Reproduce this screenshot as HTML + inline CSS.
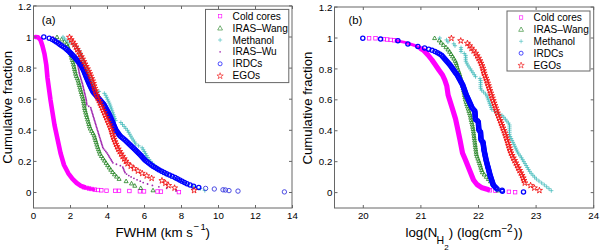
<!DOCTYPE html>
<html><head><meta charset="utf-8"><style>
html,body{margin:0;padding:0;background:#fff;width:600px;height:252px;overflow:hidden;position:relative}
</style></head><body>
<svg width="600" height="252" viewBox="0 0 600 252" style="position:absolute;left:0;top:0">
<g font-family="'Liberation Sans', sans-serif" font-size="9.7" fill="#000">
<g><path d="M80.8 185.8L86.5 187.9L94 189.5" fill="none" stroke="#ff00ff" stroke-width="3" stroke-linecap="round"/>
<path d="M35.5 37L38 37.3L40.5 40L42.5 46L44.5 54L46.3 65L47.5 78L50.5 100L54.5 125L60.5 153L64 165L68.3 173.3L72.5 178.9L76.7 183L80.8 185.8L84 187" fill="none" stroke="#ff00ff" stroke-width="4.6" stroke-linejoin="round" stroke-linecap="round"/>
<rect x="82.25" y="185.45" width="3.5" height="3.5" fill="none" stroke="#ff00ff" stroke-width="0.75"/>
<rect x="84.75" y="186.15" width="3.5" height="3.5" fill="none" stroke="#ff00ff" stroke-width="0.75"/>
<rect x="87.25" y="186.75" width="3.5" height="3.5" fill="none" stroke="#ff00ff" stroke-width="0.75"/>
<rect x="89.75" y="187.25" width="3.5" height="3.5" fill="none" stroke="#ff00ff" stroke-width="0.75"/>
<rect x="92.95" y="187.85" width="3.5" height="3.5" fill="none" stroke="#ff00ff" stroke-width="0.75"/>
<rect x="96.25" y="188.25" width="3.5" height="3.5" fill="none" stroke="#ff00ff" stroke-width="0.75"/>
<rect x="99.55" y="188.55" width="3.5" height="3.5" fill="none" stroke="#ff00ff" stroke-width="0.75"/>
<rect x="104.75" y="188.95" width="3.5" height="3.5" fill="none" stroke="#ff00ff" stroke-width="0.75"/>
<rect x="113.55" y="189.05" width="3.5" height="3.5" fill="none" stroke="#ff00ff" stroke-width="0.75"/>
<rect x="117.25" y="189.05" width="3.5" height="3.5" fill="none" stroke="#ff00ff" stroke-width="0.75"/>
<rect x="127.65" y="189.25" width="3.5" height="3.5" fill="none" stroke="#ff00ff" stroke-width="0.75"/>
<rect x="138.15" y="189.55" width="3.5" height="3.5" fill="none" stroke="#ff00ff" stroke-width="0.75"/>
<rect x="142.25" y="189.65" width="3.5" height="3.5" fill="none" stroke="#ff00ff" stroke-width="0.75"/>
<rect x="155.75" y="189.75" width="3.5" height="3.5" fill="none" stroke="#ff00ff" stroke-width="0.75"/>
<rect x="159.15" y="189.85" width="3.5" height="3.5" fill="none" stroke="#ff00ff" stroke-width="0.75"/>
<rect x="177.15" y="190.35" width="3.5" height="3.5" fill="none" stroke="#ff00ff" stroke-width="0.75"/>
<path d="M57 35L59 38.6L55 38.6Z" fill="none" stroke="#1e801e" stroke-width="0.8"/>
<path d="M61.57 37.29L63.57 40.89L59.57 40.89Z" fill="none" stroke="#1e801e" stroke-width="0.8"/>
<path d="M64.57 39.57L66.57 43.17L62.57 43.17Z" fill="none" stroke="#1e801e" stroke-width="0.8"/>
<path d="M66.86 41.86L68.86 45.46L64.86 45.46Z" fill="none" stroke="#1e801e" stroke-width="0.8"/>
<path d="M67.81 44.15L69.81 47.75L65.81 47.75Z" fill="none" stroke="#1e801e" stroke-width="0.8"/>
<path d="M68.66 46.43L70.66 50.03L66.66 50.03Z" fill="none" stroke="#1e801e" stroke-width="0.8"/>
<path d="M69.52 48.72L71.52 52.32L67.52 52.32Z" fill="none" stroke="#1e801e" stroke-width="0.8"/>
<path d="M70.3 51.01L72.3 54.61L68.3 54.61Z" fill="none" stroke="#1e801e" stroke-width="0.8"/>
<path d="M70.99 53.29L72.99 56.89L68.99 56.89Z" fill="none" stroke="#1e801e" stroke-width="0.8"/>
<path d="M71.67 55.58L73.67 59.18L69.67 59.18Z" fill="none" stroke="#1e801e" stroke-width="0.8"/>
<path d="M72.36 57.87L74.36 61.47L70.36 61.47Z" fill="none" stroke="#1e801e" stroke-width="0.8"/>
<path d="M73.03 60.15L75.03 63.75L71.03 63.75Z" fill="none" stroke="#1e801e" stroke-width="0.8"/>
<path d="M73.54 62.44L75.54 66.04L71.54 66.04Z" fill="none" stroke="#1e801e" stroke-width="0.8"/>
<path d="M74.05 64.73L76.05 68.33L72.05 68.33Z" fill="none" stroke="#1e801e" stroke-width="0.8"/>
<path d="M74.56 67.01L76.56 70.61L72.56 70.61Z" fill="none" stroke="#1e801e" stroke-width="0.8"/>
<path d="M75.07 69.3L77.07 72.9L73.07 72.9Z" fill="none" stroke="#1e801e" stroke-width="0.8"/>
<path d="M75.59 71.59L77.59 75.19L73.59 75.19Z" fill="none" stroke="#1e801e" stroke-width="0.8"/>
<path d="M76.27 73.88L78.27 77.47L74.27 77.47Z" fill="none" stroke="#1e801e" stroke-width="0.8"/>
<path d="M77.23 76.16L79.23 79.76L75.23 79.76Z" fill="none" stroke="#1e801e" stroke-width="0.8"/>
<path d="M78.12 78.45L80.12 82.05L76.12 82.05Z" fill="none" stroke="#1e801e" stroke-width="0.8"/>
<path d="M78.72 80.74L80.72 84.34L76.72 84.34Z" fill="none" stroke="#1e801e" stroke-width="0.8"/>
<path d="M79.33 83.02L81.33 86.62L77.33 86.62Z" fill="none" stroke="#1e801e" stroke-width="0.8"/>
<path d="M79.94 85.31L81.94 88.91L77.94 88.91Z" fill="none" stroke="#1e801e" stroke-width="0.8"/>
<path d="M80.54 87.6L82.54 91.2L78.54 91.2Z" fill="none" stroke="#1e801e" stroke-width="0.8"/>
<path d="M81.15 89.88L83.15 93.48L79.15 93.48Z" fill="none" stroke="#1e801e" stroke-width="0.8"/>
<path d="M81.75 92.17L83.75 95.77L79.75 95.77Z" fill="none" stroke="#1e801e" stroke-width="0.8"/>
<path d="M82.36 94.46L84.36 98.06L80.36 98.06Z" fill="none" stroke="#1e801e" stroke-width="0.8"/>
<path d="M82.97 96.74L84.97 100.34L80.97 100.34Z" fill="none" stroke="#1e801e" stroke-width="0.8"/>
<path d="M83.47 99.03L85.47 102.63L81.47 102.63Z" fill="none" stroke="#1e801e" stroke-width="0.8"/>
<path d="M83.86 101.32L85.86 104.92L81.86 104.92Z" fill="none" stroke="#1e801e" stroke-width="0.8"/>
<path d="M84.25 103.6L86.25 107.2L82.25 107.2Z" fill="none" stroke="#1e801e" stroke-width="0.8"/>
<path d="M84.64 105.89L86.64 109.49L82.64 109.49Z" fill="none" stroke="#1e801e" stroke-width="0.8"/>
<path d="M85.05 108.18L87.05 111.78L83.05 111.78Z" fill="none" stroke="#1e801e" stroke-width="0.8"/>
<path d="M85.68 110.46L87.68 114.06L83.68 114.06Z" fill="none" stroke="#1e801e" stroke-width="0.8"/>
<path d="M86.32 112.75L88.32 116.35L84.32 116.35Z" fill="none" stroke="#1e801e" stroke-width="0.8"/>
<path d="M86.95 115.04L88.95 118.64L84.95 118.64Z" fill="none" stroke="#1e801e" stroke-width="0.8"/>
<path d="M87.59 117.32L89.59 120.92L85.59 120.92Z" fill="none" stroke="#1e801e" stroke-width="0.8"/>
<path d="M88.23 119.61L90.23 123.21L86.23 123.21Z" fill="none" stroke="#1e801e" stroke-width="0.8"/>
<path d="M88.86 121.9L90.86 125.5L86.86 125.5Z" fill="none" stroke="#1e801e" stroke-width="0.8"/>
<path d="M89.5 124.18L91.5 127.78L87.5 127.78Z" fill="none" stroke="#1e801e" stroke-width="0.8"/>
<path d="M90.27 126.47L92.27 130.07L88.27 130.07Z" fill="none" stroke="#1e801e" stroke-width="0.8"/>
<path d="M91.58 128.76L93.58 132.36L89.58 132.36Z" fill="none" stroke="#1e801e" stroke-width="0.8"/>
<path d="M92.88 131.04L94.88 134.64L90.88 134.64Z" fill="none" stroke="#1e801e" stroke-width="0.8"/>
<path d="M94.1 133.33L96.1 136.93L92.1 136.93Z" fill="none" stroke="#1e801e" stroke-width="0.8"/>
<path d="M94.79 135.62L96.79 139.22L92.79 139.22Z" fill="none" stroke="#1e801e" stroke-width="0.8"/>
<path d="M95.47 137.9L97.47 141.5L93.47 141.5Z" fill="none" stroke="#1e801e" stroke-width="0.8"/>
<path d="M96.16 140.19L98.16 143.79L94.16 143.79Z" fill="none" stroke="#1e801e" stroke-width="0.8"/>
<path d="M96.84 142.48L98.84 146.08L94.84 146.08Z" fill="none" stroke="#1e801e" stroke-width="0.8"/>
<path d="M97.6 144.76L99.6 148.36L95.6 148.36Z" fill="none" stroke="#1e801e" stroke-width="0.8"/>
<path d="M98.38 147.05L100.38 150.65L96.38 150.65Z" fill="none" stroke="#1e801e" stroke-width="0.8"/>
<path d="M99.16 149.34L101.16 152.94L97.16 152.94Z" fill="none" stroke="#1e801e" stroke-width="0.8"/>
<path d="M99.94 151.62L101.94 155.22L97.94 155.22Z" fill="none" stroke="#1e801e" stroke-width="0.8"/>
<path d="M101.42 153.91L103.42 157.51L99.42 157.51Z" fill="none" stroke="#1e801e" stroke-width="0.8"/>
<path d="M102.95 156.2L104.95 159.8L100.95 159.8Z" fill="none" stroke="#1e801e" stroke-width="0.8"/>
<path d="M104.48 158.49L106.48 162.09L102.48 162.09Z" fill="none" stroke="#1e801e" stroke-width="0.8"/>
<path d="M106.03 160.77L108.03 164.37L104.03 164.37Z" fill="none" stroke="#1e801e" stroke-width="0.8"/>
<path d="M107.6 163.06L109.6 166.66L105.6 166.66Z" fill="none" stroke="#1e801e" stroke-width="0.8"/>
<path d="M109.18 165.35L111.18 168.95L107.18 168.95Z" fill="none" stroke="#1e801e" stroke-width="0.8"/>
<path d="M110.75 167.63L112.75 171.23L108.75 171.23Z" fill="none" stroke="#1e801e" stroke-width="0.8"/>
<path d="M112.6 169.92L114.6 173.52L110.6 173.52Z" fill="none" stroke="#1e801e" stroke-width="0.8"/>
<path d="M114.5 172.21L116.5 175.81L112.5 175.81Z" fill="none" stroke="#1e801e" stroke-width="0.8"/>
<path d="M116.55 174.49L118.55 178.09L114.55 178.09Z" fill="none" stroke="#1e801e" stroke-width="0.8"/>
<path d="M119.09 176.78L121.09 180.38L117.09 180.38Z" fill="none" stroke="#1e801e" stroke-width="0.8"/>
<path d="M126.11 179.07L128.11 182.67L124.11 182.67Z" fill="none" stroke="#1e801e" stroke-width="0.8"/>
<path d="M131.53 181.35L133.53 184.95L129.53 184.95Z" fill="none" stroke="#1e801e" stroke-width="0.8"/>
<path d="M134.78 183.64L136.78 187.24L132.78 187.24Z" fill="none" stroke="#1e801e" stroke-width="0.8"/>
<path d="M140.74 185.93L142.74 189.53L138.74 189.53Z" fill="none" stroke="#1e801e" stroke-width="0.8"/>
<path d="M153 188.21L155 191.81L151 191.81Z" fill="none" stroke="#1e801e" stroke-width="0.8"/>
<path d="M60.9 37H65.1M63 34.9V39.1" stroke="#40baba" stroke-width="0.75"/>
<path d="M62.63 38.94H66.83M64.73 36.84V41.04" stroke="#40baba" stroke-width="0.75"/>
<path d="M65.08 40.89H69.28M67.18 38.79V42.99" stroke="#40baba" stroke-width="0.75"/>
<path d="M67.67 42.83H71.87M69.77 40.73V44.93" stroke="#40baba" stroke-width="0.75"/>
<path d="M71.45 44.78H75.65M73.55 42.68V46.88" stroke="#40baba" stroke-width="0.75"/>
<path d="M74.44 46.72H78.64M76.54 44.62V48.82" stroke="#40baba" stroke-width="0.75"/>
<path d="M75.9 48.66H80.1M78 46.56V50.76" stroke="#40baba" stroke-width="0.75"/>
<path d="M77.13 50.61H81.33M79.23 48.51V52.71" stroke="#40baba" stroke-width="0.75"/>
<path d="M77.86 52.55H82.06M79.96 50.45V54.65" stroke="#40baba" stroke-width="0.75"/>
<path d="M78.59 54.49H82.79M80.69 52.39V56.59" stroke="#40baba" stroke-width="0.75"/>
<path d="M79.31 56.44H83.51M81.41 54.34V58.54" stroke="#40baba" stroke-width="0.75"/>
<path d="M80.07 58.38H84.27M82.17 56.28V60.48" stroke="#40baba" stroke-width="0.75"/>
<path d="M80.92 60.33H85.12M83.02 58.23V62.43" stroke="#40baba" stroke-width="0.75"/>
<path d="M81.77 62.27H85.97M83.87 60.17V64.37" stroke="#40baba" stroke-width="0.75"/>
<path d="M82.62 64.21H86.82M84.72 62.11V66.31" stroke="#40baba" stroke-width="0.75"/>
<path d="M83.46 66.16H87.66M85.56 64.06V68.26" stroke="#40baba" stroke-width="0.75"/>
<path d="M84.19 68.1H88.39M86.29 66V70.2" stroke="#40baba" stroke-width="0.75"/>
<path d="M84.92 70.04H89.12M87.02 67.94V72.14" stroke="#40baba" stroke-width="0.75"/>
<path d="M85.65 71.99H89.85M87.75 69.89V74.09" stroke="#40baba" stroke-width="0.75"/>
<path d="M86.37 73.93H90.57M88.47 71.83V76.03" stroke="#40baba" stroke-width="0.75"/>
<path d="M87.1 75.88H91.3M89.2 73.78V77.97" stroke="#40baba" stroke-width="0.75"/>
<path d="M87.83 77.82H92.03M89.93 75.72V79.92" stroke="#40baba" stroke-width="0.75"/>
<path d="M88.63 79.76H92.83M90.73 77.66V81.86" stroke="#40baba" stroke-width="0.75"/>
<path d="M89.44 81.71H93.64M91.54 79.61V83.81" stroke="#40baba" stroke-width="0.75"/>
<path d="M90.25 83.65H94.45M92.35 81.55V85.75" stroke="#40baba" stroke-width="0.75"/>
<path d="M91.06 85.59H95.26M93.16 83.49V87.69" stroke="#40baba" stroke-width="0.75"/>
<path d="M91.87 87.54H96.07M93.97 85.44V89.64" stroke="#40baba" stroke-width="0.75"/>
<path d="M92.68 89.48H96.88M94.78 87.38V91.58" stroke="#40baba" stroke-width="0.75"/>
<path d="M96.86 91.42H101.06M98.96 89.33V93.52" stroke="#40baba" stroke-width="0.75"/>
<path d="M102.26 93.37H106.46M104.36 91.27V95.47" stroke="#40baba" stroke-width="0.75"/>
<path d="M103.67 95.31H107.87M105.77 93.21V97.41" stroke="#40baba" stroke-width="0.75"/>
<path d="M104.54 97.26H108.74M106.64 95.16V99.36" stroke="#40baba" stroke-width="0.75"/>
<path d="M105.41 99.2H109.61M107.51 97.1V101.3" stroke="#40baba" stroke-width="0.75"/>
<path d="M106.28 101.14H110.48M108.38 99.04V103.24" stroke="#40baba" stroke-width="0.75"/>
<path d="M107.16 103.09H111.36M109.26 100.99V105.19" stroke="#40baba" stroke-width="0.75"/>
<path d="M107.96 105.03H112.16M110.06 102.93V107.13" stroke="#40baba" stroke-width="0.75"/>
<path d="M108.65 106.97H112.85M110.75 104.88V109.07" stroke="#40baba" stroke-width="0.75"/>
<path d="M109.33 108.92H113.53M111.43 106.82V111.02" stroke="#40baba" stroke-width="0.75"/>
<path d="M110.02 110.86H114.22M112.12 108.76V112.96" stroke="#40baba" stroke-width="0.75"/>
<path d="M110.71 112.81H114.91M112.81 110.71V114.91" stroke="#40baba" stroke-width="0.75"/>
<path d="M111.39 114.75H115.59M113.49 112.65V116.85" stroke="#40baba" stroke-width="0.75"/>
<path d="M112.08 116.69H116.28M114.18 114.59V118.79" stroke="#40baba" stroke-width="0.75"/>
<path d="M112.77 118.64H116.97M114.87 116.54V120.74" stroke="#40baba" stroke-width="0.75"/>
<path d="M113.45 120.58H117.65M115.55 118.48V122.68" stroke="#40baba" stroke-width="0.75"/>
<path d="M118.76 122.52H122.96M120.86 120.42V124.62" stroke="#40baba" stroke-width="0.75"/>
<path d="M120.4 124.47H124.6M122.5 122.37V126.57" stroke="#40baba" stroke-width="0.75"/>
<path d="M122.05 126.41H126.25M124.15 124.31V128.51" stroke="#40baba" stroke-width="0.75"/>
<path d="M123.69 128.36H127.89M125.79 126.26V130.46" stroke="#40baba" stroke-width="0.75"/>
<path d="M125.33 130.3H129.53M127.43 128.2V132.4" stroke="#40baba" stroke-width="0.75"/>
<path d="M126.5 132.24H130.7M128.6 130.14V134.34" stroke="#40baba" stroke-width="0.75"/>
<path d="M127.61 134.19H131.81M129.71 132.09V136.29" stroke="#40baba" stroke-width="0.75"/>
<path d="M128.73 136.13H132.93M130.83 134.03V138.23" stroke="#40baba" stroke-width="0.75"/>
<path d="M129.85 138.07H134.05M131.95 135.97V140.17" stroke="#40baba" stroke-width="0.75"/>
<path d="M131.11 140.02H135.31M133.21 137.92V142.12" stroke="#40baba" stroke-width="0.75"/>
<path d="M132.37 141.96H136.57M134.47 139.86V144.06" stroke="#40baba" stroke-width="0.75"/>
<path d="M133.63 143.91H137.83M135.73 141.81V146.01" stroke="#40baba" stroke-width="0.75"/>
<path d="M136.52 145.85H140.72M138.62 143.75V147.95" stroke="#40baba" stroke-width="0.75"/>
<path d="M140.05 147.79H144.25M142.15 145.69V149.89" stroke="#40baba" stroke-width="0.75"/>
<path d="M141.16 149.74H145.36M143.26 147.64V151.84" stroke="#40baba" stroke-width="0.75"/>
<path d="M142.28 151.68H146.48M144.38 149.58V153.78" stroke="#40baba" stroke-width="0.75"/>
<path d="M143.4 153.62H147.6M145.5 151.53V155.72" stroke="#40baba" stroke-width="0.75"/>
<path d="M144.52 155.57H148.72M146.62 153.47V157.67" stroke="#40baba" stroke-width="0.75"/>
<path d="M145.64 157.51H149.84M147.74 155.41V159.61" stroke="#40baba" stroke-width="0.75"/>
<path d="M146.92 159.46H151.12M149.02 157.36V161.56" stroke="#40baba" stroke-width="0.75"/>
<path d="M148.69 161.4H152.89M150.79 159.3V163.5" stroke="#40baba" stroke-width="0.75"/>
<path d="M150.47 163.34H154.67M152.57 161.24V165.44" stroke="#40baba" stroke-width="0.75"/>
<path d="M152.25 165.29H156.45M154.35 163.19V167.39" stroke="#40baba" stroke-width="0.75"/>
<path d="M154.21 167.23H158.41M156.31 165.13V169.33" stroke="#40baba" stroke-width="0.75"/>
<path d="M156.29 169.18H160.49M158.39 167.08V171.28" stroke="#40baba" stroke-width="0.75"/>
<path d="M158.36 171.12H162.56M160.46 169.02V173.22" stroke="#40baba" stroke-width="0.75"/>
<path d="M160.43 173.06H164.63M162.53 170.96V175.16" stroke="#40baba" stroke-width="0.75"/>
<path d="M164.21 175.01H168.41M166.31 172.91V177.11" stroke="#40baba" stroke-width="0.75"/>
<path d="M168.49 176.95H172.69M170.59 174.85V179.05" stroke="#40baba" stroke-width="0.75"/>
<path d="M172.8 178.89H177M174.9 176.79V180.99" stroke="#40baba" stroke-width="0.75"/>
<path d="M177.24 180.84H181.44M179.34 178.74V182.94" stroke="#40baba" stroke-width="0.75"/>
<path d="M181.69 182.78H185.89M183.79 180.68V184.88" stroke="#40baba" stroke-width="0.75"/>
<path d="M186.13 184.72H190.33M188.23 182.62V186.82" stroke="#40baba" stroke-width="0.75"/>
<path d="M191.74 186.67H195.94M193.84 184.57V188.77" stroke="#40baba" stroke-width="0.75"/>
<path d="M198.14 188.61H202.34M200.24 186.51V190.71" stroke="#40baba" stroke-width="0.75"/>
<path d="M202.7 190.56H206.9M204.8 188.46V192.66" stroke="#40baba" stroke-width="0.75"/>
<circle cx="53" cy="37" r="0.9" fill="#a02ab0"/>
<circle cx="54.1" cy="38.41" r="0.9" fill="#a02ab0"/>
<circle cx="55.79" cy="39.83" r="0.9" fill="#a02ab0"/>
<circle cx="57.1" cy="41.24" r="0.9" fill="#a02ab0"/>
<circle cx="58.36" cy="42.65" r="0.9" fill="#a02ab0"/>
<circle cx="59.62" cy="44.07" r="0.9" fill="#a02ab0"/>
<circle cx="61.4" cy="45.48" r="0.9" fill="#a02ab0"/>
<circle cx="63.42" cy="46.9" r="0.9" fill="#a02ab0"/>
<circle cx="65.34" cy="48.31" r="0.9" fill="#a02ab0"/>
<circle cx="66.91" cy="49.72" r="0.9" fill="#a02ab0"/>
<circle cx="68.48" cy="51.14" r="0.9" fill="#a02ab0"/>
<circle cx="70.05" cy="52.55" r="0.9" fill="#a02ab0"/>
<circle cx="71.33" cy="53.96" r="0.9" fill="#a02ab0"/>
<circle cx="72.62" cy="55.38" r="0.9" fill="#a02ab0"/>
<circle cx="73.9" cy="56.79" r="0.9" fill="#a02ab0"/>
<circle cx="75.08" cy="58.2" r="0.9" fill="#a02ab0"/>
<circle cx="75.61" cy="59.62" r="0.9" fill="#a02ab0"/>
<circle cx="76.14" cy="61.03" r="0.9" fill="#a02ab0"/>
<circle cx="76.67" cy="62.45" r="0.9" fill="#a02ab0"/>
<circle cx="77.2" cy="63.86" r="0.9" fill="#a02ab0"/>
<circle cx="77.73" cy="65.27" r="0.9" fill="#a02ab0"/>
<circle cx="78.13" cy="66.69" r="0.9" fill="#a02ab0"/>
<circle cx="78.39" cy="68.1" r="0.9" fill="#a02ab0"/>
<circle cx="78.66" cy="69.51" r="0.9" fill="#a02ab0"/>
<circle cx="78.92" cy="70.93" r="0.9" fill="#a02ab0"/>
<circle cx="79.19" cy="72.34" r="0.9" fill="#a02ab0"/>
<circle cx="79.45" cy="73.75" r="0.9" fill="#a02ab0"/>
<circle cx="79.85" cy="75.17" r="0.9" fill="#a02ab0"/>
<circle cx="80.27" cy="76.58" r="0.9" fill="#a02ab0"/>
<circle cx="80.7" cy="78" r="0.9" fill="#a02ab0"/>
<circle cx="81.12" cy="79.41" r="0.9" fill="#a02ab0"/>
<circle cx="81.55" cy="80.82" r="0.9" fill="#a02ab0"/>
<circle cx="81.97" cy="82.24" r="0.9" fill="#a02ab0"/>
<circle cx="82.39" cy="83.65" r="0.9" fill="#a02ab0"/>
<circle cx="82.75" cy="85.06" r="0.9" fill="#a02ab0"/>
<circle cx="83.09" cy="86.48" r="0.9" fill="#a02ab0"/>
<circle cx="83.42" cy="87.89" r="0.9" fill="#a02ab0"/>
<circle cx="83.76" cy="89.3" r="0.9" fill="#a02ab0"/>
<circle cx="84.1" cy="90.72" r="0.9" fill="#a02ab0"/>
<circle cx="84.43" cy="92.13" r="0.9" fill="#a02ab0"/>
<circle cx="84.77" cy="93.55" r="0.9" fill="#a02ab0"/>
<circle cx="85.1" cy="94.96" r="0.9" fill="#a02ab0"/>
<circle cx="85.44" cy="96.37" r="0.9" fill="#a02ab0"/>
<circle cx="85.77" cy="97.79" r="0.9" fill="#a02ab0"/>
<circle cx="86.11" cy="99.2" r="0.9" fill="#a02ab0"/>
<circle cx="86.37" cy="100.61" r="0.9" fill="#a02ab0"/>
<circle cx="86.53" cy="102.03" r="0.9" fill="#a02ab0"/>
<circle cx="86.68" cy="103.44" r="0.9" fill="#a02ab0"/>
<circle cx="86.84" cy="104.85" r="0.9" fill="#a02ab0"/>
<circle cx="88.74" cy="106.27" r="0.9" fill="#a02ab0"/>
<circle cx="90.68" cy="107.68" r="0.9" fill="#a02ab0"/>
<circle cx="91.1" cy="109.1" r="0.9" fill="#a02ab0"/>
<circle cx="91.53" cy="110.51" r="0.9" fill="#a02ab0"/>
<circle cx="91.96" cy="111.92" r="0.9" fill="#a02ab0"/>
<circle cx="92.39" cy="113.34" r="0.9" fill="#a02ab0"/>
<circle cx="92.81" cy="114.75" r="0.9" fill="#a02ab0"/>
<circle cx="93.24" cy="116.16" r="0.9" fill="#a02ab0"/>
<circle cx="93.67" cy="117.58" r="0.9" fill="#a02ab0"/>
<circle cx="94.09" cy="118.99" r="0.9" fill="#a02ab0"/>
<circle cx="94.52" cy="120.4" r="0.9" fill="#a02ab0"/>
<circle cx="94.95" cy="121.82" r="0.9" fill="#a02ab0"/>
<circle cx="95.38" cy="123.23" r="0.9" fill="#a02ab0"/>
<circle cx="95.8" cy="124.65" r="0.9" fill="#a02ab0"/>
<circle cx="96.23" cy="126.06" r="0.9" fill="#a02ab0"/>
<circle cx="96.66" cy="127.47" r="0.9" fill="#a02ab0"/>
<circle cx="97.09" cy="128.89" r="0.9" fill="#a02ab0"/>
<circle cx="97.53" cy="130.3" r="0.9" fill="#a02ab0"/>
<circle cx="97.96" cy="131.71" r="0.9" fill="#a02ab0"/>
<circle cx="98.4" cy="133.13" r="0.9" fill="#a02ab0"/>
<circle cx="98.84" cy="134.54" r="0.9" fill="#a02ab0"/>
<circle cx="99.27" cy="135.95" r="0.9" fill="#a02ab0"/>
<circle cx="99.71" cy="137.37" r="0.9" fill="#a02ab0"/>
<circle cx="100.15" cy="138.78" r="0.9" fill="#a02ab0"/>
<circle cx="100.59" cy="140.2" r="0.9" fill="#a02ab0"/>
<circle cx="101.02" cy="141.61" r="0.9" fill="#a02ab0"/>
<circle cx="101.46" cy="143.02" r="0.9" fill="#a02ab0"/>
<circle cx="101.9" cy="144.44" r="0.9" fill="#a02ab0"/>
<circle cx="102.34" cy="145.85" r="0.9" fill="#a02ab0"/>
<circle cx="102.77" cy="147.26" r="0.9" fill="#a02ab0"/>
<circle cx="103.54" cy="148.68" r="0.9" fill="#a02ab0"/>
<circle cx="104.67" cy="150.09" r="0.9" fill="#a02ab0"/>
<circle cx="105.8" cy="151.5" r="0.9" fill="#a02ab0"/>
<circle cx="106.93" cy="152.92" r="0.9" fill="#a02ab0"/>
<circle cx="107.8" cy="154.33" r="0.9" fill="#a02ab0"/>
<circle cx="108.65" cy="155.75" r="0.9" fill="#a02ab0"/>
<circle cx="109.5" cy="157.16" r="0.9" fill="#a02ab0"/>
<circle cx="110.34" cy="158.57" r="0.9" fill="#a02ab0"/>
<circle cx="111.19" cy="159.99" r="0.9" fill="#a02ab0"/>
<circle cx="112.04" cy="161.4" r="0.9" fill="#a02ab0"/>
<circle cx="112.89" cy="162.81" r="0.9" fill="#a02ab0"/>
<circle cx="116.43" cy="164.23" r="0.9" fill="#a02ab0"/>
<circle cx="120.38" cy="165.64" r="0.9" fill="#a02ab0"/>
<circle cx="122.77" cy="167.05" r="0.9" fill="#a02ab0"/>
<circle cx="123.34" cy="168.47" r="0.9" fill="#a02ab0"/>
<circle cx="123.91" cy="169.88" r="0.9" fill="#a02ab0"/>
<circle cx="124.49" cy="171.3" r="0.9" fill="#a02ab0"/>
<circle cx="125.06" cy="172.71" r="0.9" fill="#a02ab0"/>
<circle cx="126.59" cy="174.12" r="0.9" fill="#a02ab0"/>
<circle cx="128.81" cy="175.54" r="0.9" fill="#a02ab0"/>
<circle cx="131.1" cy="176.95" r="0.9" fill="#a02ab0"/>
<circle cx="133.93" cy="178.36" r="0.9" fill="#a02ab0"/>
<circle cx="137.05" cy="179.78" r="0.9" fill="#a02ab0"/>
<circle cx="140.29" cy="181.19" r="0.9" fill="#a02ab0"/>
<circle cx="143.19" cy="182.6" r="0.9" fill="#a02ab0"/>
<circle cx="147.56" cy="184.02" r="0.9" fill="#a02ab0"/>
<circle cx="152.39" cy="185.43" r="0.9" fill="#a02ab0"/>
<circle cx="158.87" cy="186.85" r="0.9" fill="#a02ab0"/>
<circle cx="166.69" cy="188.26" r="0.9" fill="#a02ab0"/>
<circle cx="176" cy="189.67" r="0.9" fill="#a02ab0"/>
<circle cx="176" cy="191.09" r="0.9" fill="#a02ab0"/>
<circle cx="43.8" cy="37" r="2.1" fill="none" stroke="#0000ff" stroke-width="1.3"/>
<circle cx="49.25" cy="38.24" r="2.1" fill="none" stroke="#0000ff" stroke-width="1.3"/>
<circle cx="52.37" cy="39.49" r="2.1" fill="none" stroke="#0000ff" stroke-width="1.3"/>
<circle cx="54.55" cy="40.73" r="2.1" fill="none" stroke="#0000ff" stroke-width="1.3"/>
<circle cx="56.42" cy="41.98" r="2.1" fill="none" stroke="#0000ff" stroke-width="1.3"/>
<circle cx="58.41" cy="43.22" r="2.1" fill="none" stroke="#0000ff" stroke-width="1.3"/>
<circle cx="59.98" cy="44.46" r="2.1" fill="none" stroke="#0000ff" stroke-width="1.3"/>
<circle cx="61.75" cy="45.71" r="2.1" fill="none" stroke="#0000ff" stroke-width="1.3"/>
<circle cx="63.68" cy="46.95" r="2.1" fill="none" stroke="#0000ff" stroke-width="1.3"/>
<circle cx="65.44" cy="48.2" r="2.1" fill="none" stroke="#0000ff" stroke-width="1.3"/>
<circle cx="66.82" cy="49.44" r="2.1" fill="none" stroke="#0000ff" stroke-width="1.3"/>
<circle cx="68.2" cy="50.68" r="2.1" fill="none" stroke="#0000ff" stroke-width="1.3"/>
<circle cx="69.59" cy="51.93" r="2.1" fill="none" stroke="#0000ff" stroke-width="1.3"/>
<circle cx="70.82" cy="53.17" r="2.1" fill="none" stroke="#0000ff" stroke-width="1.3"/>
<circle cx="72" cy="54.42" r="2.1" fill="none" stroke="#0000ff" stroke-width="1.3"/>
<circle cx="73.17" cy="55.66" r="2.1" fill="none" stroke="#0000ff" stroke-width="1.3"/>
<circle cx="74.34" cy="56.9" r="2.1" fill="none" stroke="#0000ff" stroke-width="1.3"/>
<circle cx="75.46" cy="58.15" r="2.1" fill="none" stroke="#0000ff" stroke-width="1.3"/>
<circle cx="76.49" cy="59.39" r="2.1" fill="none" stroke="#0000ff" stroke-width="1.3"/>
<circle cx="77.53" cy="60.64" r="2.1" fill="none" stroke="#0000ff" stroke-width="1.3"/>
<circle cx="78.57" cy="61.88" r="2.1" fill="none" stroke="#0000ff" stroke-width="1.3"/>
<circle cx="79.6" cy="63.12" r="2.1" fill="none" stroke="#0000ff" stroke-width="1.3"/>
<circle cx="80.42" cy="64.37" r="2.1" fill="none" stroke="#0000ff" stroke-width="1.3"/>
<circle cx="81.1" cy="65.61" r="2.1" fill="none" stroke="#0000ff" stroke-width="1.3"/>
<circle cx="81.78" cy="66.86" r="2.1" fill="none" stroke="#0000ff" stroke-width="1.3"/>
<circle cx="82.46" cy="68.1" r="2.1" fill="none" stroke="#0000ff" stroke-width="1.3"/>
<circle cx="83.14" cy="69.34" r="2.1" fill="none" stroke="#0000ff" stroke-width="1.3"/>
<circle cx="83.74" cy="70.59" r="2.1" fill="none" stroke="#0000ff" stroke-width="1.3"/>
<circle cx="84.23" cy="71.83" r="2.1" fill="none" stroke="#0000ff" stroke-width="1.3"/>
<circle cx="84.73" cy="73.08" r="2.1" fill="none" stroke="#0000ff" stroke-width="1.3"/>
<circle cx="85.23" cy="74.32" r="2.1" fill="none" stroke="#0000ff" stroke-width="1.3"/>
<circle cx="85.73" cy="75.56" r="2.1" fill="none" stroke="#0000ff" stroke-width="1.3"/>
<circle cx="86.22" cy="76.81" r="2.1" fill="none" stroke="#0000ff" stroke-width="1.3"/>
<circle cx="86.76" cy="78.05" r="2.1" fill="none" stroke="#0000ff" stroke-width="1.3"/>
<circle cx="87.3" cy="79.3" r="2.1" fill="none" stroke="#0000ff" stroke-width="1.3"/>
<circle cx="87.85" cy="80.54" r="2.1" fill="none" stroke="#0000ff" stroke-width="1.3"/>
<circle cx="88.39" cy="81.78" r="2.1" fill="none" stroke="#0000ff" stroke-width="1.3"/>
<circle cx="88.94" cy="83.03" r="2.1" fill="none" stroke="#0000ff" stroke-width="1.3"/>
<circle cx="89.48" cy="84.27" r="2.1" fill="none" stroke="#0000ff" stroke-width="1.3"/>
<circle cx="90.05" cy="85.52" r="2.1" fill="none" stroke="#0000ff" stroke-width="1.3"/>
<circle cx="90.65" cy="86.76" r="2.1" fill="none" stroke="#0000ff" stroke-width="1.3"/>
<circle cx="91.26" cy="88" r="2.1" fill="none" stroke="#0000ff" stroke-width="1.3"/>
<circle cx="91.86" cy="89.25" r="2.1" fill="none" stroke="#0000ff" stroke-width="1.3"/>
<circle cx="92.47" cy="90.49" r="2.1" fill="none" stroke="#0000ff" stroke-width="1.3"/>
<circle cx="93.07" cy="91.74" r="2.1" fill="none" stroke="#0000ff" stroke-width="1.3"/>
<circle cx="94.04" cy="92.98" r="2.1" fill="none" stroke="#0000ff" stroke-width="1.3"/>
<circle cx="95.11" cy="94.22" r="2.1" fill="none" stroke="#0000ff" stroke-width="1.3"/>
<circle cx="96.18" cy="95.47" r="2.1" fill="none" stroke="#0000ff" stroke-width="1.3"/>
<circle cx="97.25" cy="96.71" r="2.1" fill="none" stroke="#0000ff" stroke-width="1.3"/>
<circle cx="98.33" cy="97.96" r="2.1" fill="none" stroke="#0000ff" stroke-width="1.3"/>
<circle cx="99.4" cy="99.2" r="2.1" fill="none" stroke="#0000ff" stroke-width="1.3"/>
<circle cx="100.47" cy="100.44" r="2.1" fill="none" stroke="#0000ff" stroke-width="1.3"/>
<circle cx="101.55" cy="101.69" r="2.1" fill="none" stroke="#0000ff" stroke-width="1.3"/>
<circle cx="102.62" cy="102.93" r="2.1" fill="none" stroke="#0000ff" stroke-width="1.3"/>
<circle cx="103.69" cy="104.18" r="2.1" fill="none" stroke="#0000ff" stroke-width="1.3"/>
<circle cx="104.41" cy="105.42" r="2.1" fill="none" stroke="#0000ff" stroke-width="1.3"/>
<circle cx="105.08" cy="106.66" r="2.1" fill="none" stroke="#0000ff" stroke-width="1.3"/>
<circle cx="105.75" cy="107.91" r="2.1" fill="none" stroke="#0000ff" stroke-width="1.3"/>
<circle cx="106.42" cy="109.15" r="2.1" fill="none" stroke="#0000ff" stroke-width="1.3"/>
<circle cx="107.09" cy="110.4" r="2.1" fill="none" stroke="#0000ff" stroke-width="1.3"/>
<circle cx="107.77" cy="111.64" r="2.1" fill="none" stroke="#0000ff" stroke-width="1.3"/>
<circle cx="108.44" cy="112.88" r="2.1" fill="none" stroke="#0000ff" stroke-width="1.3"/>
<circle cx="109" cy="114.13" r="2.1" fill="none" stroke="#0000ff" stroke-width="1.3"/>
<circle cx="109.55" cy="115.37" r="2.1" fill="none" stroke="#0000ff" stroke-width="1.3"/>
<circle cx="110.1" cy="116.62" r="2.1" fill="none" stroke="#0000ff" stroke-width="1.3"/>
<circle cx="110.65" cy="117.86" r="2.1" fill="none" stroke="#0000ff" stroke-width="1.3"/>
<circle cx="111.2" cy="119.1" r="2.1" fill="none" stroke="#0000ff" stroke-width="1.3"/>
<circle cx="111.75" cy="120.35" r="2.1" fill="none" stroke="#0000ff" stroke-width="1.3"/>
<circle cx="112.27" cy="121.59" r="2.1" fill="none" stroke="#0000ff" stroke-width="1.3"/>
<circle cx="112.79" cy="122.84" r="2.1" fill="none" stroke="#0000ff" stroke-width="1.3"/>
<circle cx="113.31" cy="124.08" r="2.1" fill="none" stroke="#0000ff" stroke-width="1.3"/>
<circle cx="113.84" cy="125.32" r="2.1" fill="none" stroke="#0000ff" stroke-width="1.3"/>
<circle cx="114.36" cy="126.57" r="2.1" fill="none" stroke="#0000ff" stroke-width="1.3"/>
<circle cx="114.88" cy="127.81" r="2.1" fill="none" stroke="#0000ff" stroke-width="1.3"/>
<circle cx="115.4" cy="129.06" r="2.1" fill="none" stroke="#0000ff" stroke-width="1.3"/>
<circle cx="116.01" cy="130.3" r="2.1" fill="none" stroke="#0000ff" stroke-width="1.3"/>
<circle cx="116.9" cy="131.54" r="2.1" fill="none" stroke="#0000ff" stroke-width="1.3"/>
<circle cx="117.78" cy="132.79" r="2.1" fill="none" stroke="#0000ff" stroke-width="1.3"/>
<circle cx="118.67" cy="134.03" r="2.1" fill="none" stroke="#0000ff" stroke-width="1.3"/>
<circle cx="119.56" cy="135.28" r="2.1" fill="none" stroke="#0000ff" stroke-width="1.3"/>
<circle cx="120.76" cy="136.52" r="2.1" fill="none" stroke="#0000ff" stroke-width="1.3"/>
<circle cx="122.27" cy="137.76" r="2.1" fill="none" stroke="#0000ff" stroke-width="1.3"/>
<circle cx="123.79" cy="139.01" r="2.1" fill="none" stroke="#0000ff" stroke-width="1.3"/>
<circle cx="125.26" cy="140.25" r="2.1" fill="none" stroke="#0000ff" stroke-width="1.3"/>
<circle cx="126.56" cy="141.5" r="2.1" fill="none" stroke="#0000ff" stroke-width="1.3"/>
<circle cx="127.85" cy="142.74" r="2.1" fill="none" stroke="#0000ff" stroke-width="1.3"/>
<circle cx="129.15" cy="143.98" r="2.1" fill="none" stroke="#0000ff" stroke-width="1.3"/>
<circle cx="130.46" cy="145.23" r="2.1" fill="none" stroke="#0000ff" stroke-width="1.3"/>
<circle cx="131.78" cy="146.47" r="2.1" fill="none" stroke="#0000ff" stroke-width="1.3"/>
<circle cx="133.1" cy="147.72" r="2.1" fill="none" stroke="#0000ff" stroke-width="1.3"/>
<circle cx="134.43" cy="148.96" r="2.1" fill="none" stroke="#0000ff" stroke-width="1.3"/>
<circle cx="135.7" cy="150.2" r="2.1" fill="none" stroke="#0000ff" stroke-width="1.3"/>
<circle cx="136.95" cy="151.45" r="2.1" fill="none" stroke="#0000ff" stroke-width="1.3"/>
<circle cx="138.19" cy="152.69" r="2.1" fill="none" stroke="#0000ff" stroke-width="1.3"/>
<circle cx="139.44" cy="153.94" r="2.1" fill="none" stroke="#0000ff" stroke-width="1.3"/>
<circle cx="140.68" cy="155.18" r="2.1" fill="none" stroke="#0000ff" stroke-width="1.3"/>
<circle cx="141.82" cy="156.42" r="2.1" fill="none" stroke="#0000ff" stroke-width="1.3"/>
<circle cx="142.93" cy="157.67" r="2.1" fill="none" stroke="#0000ff" stroke-width="1.3"/>
<circle cx="144.03" cy="158.91" r="2.1" fill="none" stroke="#0000ff" stroke-width="1.3"/>
<circle cx="145.2" cy="160.16" r="2.1" fill="none" stroke="#0000ff" stroke-width="1.3"/>
<circle cx="146.8" cy="161.4" r="2.1" fill="none" stroke="#0000ff" stroke-width="1.3"/>
<circle cx="148.39" cy="162.64" r="2.1" fill="none" stroke="#0000ff" stroke-width="1.3"/>
<circle cx="149.99" cy="163.89" r="2.1" fill="none" stroke="#0000ff" stroke-width="1.3"/>
<circle cx="151.59" cy="165.13" r="2.1" fill="none" stroke="#0000ff" stroke-width="1.3"/>
<circle cx="153.29" cy="166.38" r="2.1" fill="none" stroke="#0000ff" stroke-width="1.3"/>
<circle cx="155.25" cy="167.62" r="2.1" fill="none" stroke="#0000ff" stroke-width="1.3"/>
<circle cx="157.21" cy="168.86" r="2.1" fill="none" stroke="#0000ff" stroke-width="1.3"/>
<circle cx="159.22" cy="170.11" r="2.1" fill="none" stroke="#0000ff" stroke-width="1.3"/>
<circle cx="161.7" cy="171.35" r="2.1" fill="none" stroke="#0000ff" stroke-width="1.3"/>
<circle cx="164.19" cy="172.6" r="2.1" fill="none" stroke="#0000ff" stroke-width="1.3"/>
<circle cx="166.68" cy="173.84" r="2.1" fill="none" stroke="#0000ff" stroke-width="1.3"/>
<circle cx="169.45" cy="175.08" r="2.1" fill="none" stroke="#0000ff" stroke-width="1.3"/>
<circle cx="172.25" cy="176.33" r="2.1" fill="none" stroke="#0000ff" stroke-width="1.3"/>
<circle cx="175.03" cy="177.57" r="2.1" fill="none" stroke="#0000ff" stroke-width="1.3"/>
<circle cx="177.36" cy="178.82" r="2.1" fill="none" stroke="#0000ff" stroke-width="1.3"/>
<circle cx="179.68" cy="180.06" r="2.1" fill="none" stroke="#0000ff" stroke-width="1.3"/>
<circle cx="182.01" cy="181.3" r="2.1" fill="none" stroke="#0000ff" stroke-width="1.3"/>
<circle cx="184.5" cy="182.55" r="2.1" fill="none" stroke="#0000ff" stroke-width="1.3"/>
<circle cx="186.98" cy="183.79" r="2.1" fill="none" stroke="#0000ff" stroke-width="1.3"/>
<circle cx="190.07" cy="185.04" r="2.1" fill="none" stroke="#0000ff" stroke-width="1.3"/>
<circle cx="193.57" cy="186.28" r="2.1" fill="none" stroke="#0000ff" stroke-width="1.3"/>
<circle cx="198.78" cy="187.52" r="2.1" fill="none" stroke="#0000ff" stroke-width="1.3"/>
<circle cx="205.6" cy="188.4" r="2.2" fill="none" stroke="#3a3ae0" stroke-width="0.9"/>
<circle cx="214.3" cy="189" r="2.2" fill="none" stroke="#3a3ae0" stroke-width="0.9"/>
<circle cx="223" cy="189.8" r="2.2" fill="none" stroke="#3a3ae0" stroke-width="0.9"/>
<circle cx="225.4" cy="190" r="2.2" fill="none" stroke="#3a3ae0" stroke-width="0.9"/>
<circle cx="229" cy="190.6" r="2.2" fill="none" stroke="#3a3ae0" stroke-width="0.9"/>
<circle cx="238" cy="191.1" r="2.2" fill="none" stroke="#3a3ae0" stroke-width="0.9"/>
<circle cx="284.4" cy="191.9" r="2.2" fill="none" stroke="#3a3ae0" stroke-width="0.9"/>
<path d="M69.5 34.1L70.22 36.31L72.54 36.31L70.66 37.68L71.38 39.89L69.5 38.52L67.62 39.89L68.34 37.68L66.46 36.31L68.78 36.31Z" fill="none" stroke="#f01010" stroke-width="0.85"/>
<path d="M71.12 36.53L71.84 38.74L74.16 38.74L72.28 40.11L73 42.32L71.12 40.95L69.24 42.32L69.96 40.11L68.08 38.74L70.4 38.74Z" fill="none" stroke="#f01010" stroke-width="0.85"/>
<path d="M72.8 38.96L73.52 41.17L75.84 41.17L73.96 42.54L74.68 44.75L72.8 43.38L70.92 44.75L71.64 42.54L69.76 41.17L72.08 41.17Z" fill="none" stroke="#f01010" stroke-width="0.85"/>
<path d="M74.46 41.39L75.18 43.6L77.51 43.6L75.63 44.97L76.34 47.18L74.46 45.81L72.58 47.18L73.3 44.97L71.42 43.6L73.75 43.6Z" fill="none" stroke="#f01010" stroke-width="0.85"/>
<path d="M75.84 43.82L76.56 46.03L78.89 46.03L77.01 47.4L77.72 49.61L75.84 48.24L73.96 49.61L74.68 47.4L72.8 46.03L75.12 46.03Z" fill="none" stroke="#f01010" stroke-width="0.85"/>
<path d="M77.22 46.25L77.94 48.46L80.27 48.46L78.38 49.83L79.1 52.04L77.22 50.67L75.34 52.04L76.06 49.83L74.18 48.46L76.5 48.46Z" fill="none" stroke="#f01010" stroke-width="0.85"/>
<path d="M78.6 48.68L79.32 50.89L81.64 50.89L79.76 52.26L80.48 54.47L78.6 53.1L76.72 54.47L77.44 52.26L75.56 50.89L77.88 50.89Z" fill="none" stroke="#f01010" stroke-width="0.85"/>
<path d="M79.98 51.11L80.7 53.32L83.02 53.32L81.14 54.69L81.86 56.9L79.98 55.53L78.1 56.9L78.82 54.69L76.94 53.32L79.26 53.32Z" fill="none" stroke="#f01010" stroke-width="0.85"/>
<path d="M81.28 53.54L81.99 55.75L84.32 55.75L82.44 57.12L83.16 59.33L81.28 57.96L79.39 59.33L80.11 57.12L78.23 55.75L80.56 55.75Z" fill="none" stroke="#f01010" stroke-width="0.85"/>
<path d="M82.5 55.97L83.22 58.18L85.55 58.18L83.67 59.54L84.38 61.76L82.5 60.39L80.62 61.76L81.34 59.54L79.46 58.18L81.78 58.18Z" fill="none" stroke="#f01010" stroke-width="0.85"/>
<path d="M83.73 58.4L84.45 60.61L86.77 60.61L84.89 61.97L85.61 64.19L83.73 62.82L81.85 64.19L82.57 61.97L80.69 60.61L83.01 60.61Z" fill="none" stroke="#f01010" stroke-width="0.85"/>
<path d="M84.96 60.83L85.68 63.04L88 63.04L86.12 64.4L86.84 66.62L84.96 65.25L83.08 66.62L83.8 64.4L81.92 63.04L84.24 63.04Z" fill="none" stroke="#f01010" stroke-width="0.85"/>
<path d="M86.18 63.26L86.9 65.47L89.22 65.47L87.34 66.83L88.06 69.05L86.18 67.68L84.3 69.05L85.02 66.83L83.13 65.47L85.46 65.47Z" fill="none" stroke="#f01010" stroke-width="0.85"/>
<path d="M87.39 65.69L88.11 67.9L90.44 67.9L88.56 69.26L89.27 71.47L87.39 70.11L85.51 71.47L86.23 69.26L84.35 67.9L86.67 67.9Z" fill="none" stroke="#f01010" stroke-width="0.85"/>
<path d="M88.61 68.12L89.33 70.33L91.65 70.33L89.77 71.69L90.49 73.9L88.61 72.54L86.73 73.9L87.45 71.69L85.56 70.33L87.89 70.33Z" fill="none" stroke="#f01010" stroke-width="0.85"/>
<path d="M89.72 70.55L90.44 72.76L92.77 72.76L90.89 74.12L91.6 76.33L89.72 74.97L87.84 76.33L88.56 74.12L86.68 72.76L89.01 72.76Z" fill="none" stroke="#f01010" stroke-width="0.85"/>
<path d="M90.65 72.97L91.37 75.19L93.7 75.19L91.82 76.55L92.54 78.76L90.65 77.4L88.77 78.76L89.49 76.55L87.61 75.19L89.94 75.19Z" fill="none" stroke="#f01010" stroke-width="0.85"/>
<path d="M91.58 75.4L92.3 77.62L94.63 77.62L92.75 78.98L93.47 81.19L91.58 79.83L89.7 81.19L90.42 78.98L88.54 77.62L90.87 77.62Z" fill="none" stroke="#f01010" stroke-width="0.85"/>
<path d="M92.52 77.83L93.23 80.05L95.56 80.05L93.68 81.41L94.4 83.62L92.52 82.26L90.63 83.62L91.35 81.41L89.47 80.05L91.8 80.05Z" fill="none" stroke="#f01010" stroke-width="0.85"/>
<path d="M93.33 80.26L94.05 82.48L96.38 82.48L94.5 83.84L95.21 86.05L93.33 84.69L91.45 86.05L92.17 83.84L90.29 82.48L92.61 82.48Z" fill="none" stroke="#f01010" stroke-width="0.85"/>
<path d="M94.03 82.69L94.75 84.9L97.07 84.9L95.19 86.27L95.91 88.48L94.03 87.12L92.15 88.48L92.86 86.27L90.98 84.9L93.31 84.9Z" fill="none" stroke="#f01010" stroke-width="0.85"/>
<path d="M94.72 85.12L95.44 87.33L97.76 87.33L95.88 88.7L96.6 90.91L94.72 89.55L92.84 90.91L93.56 88.7L91.68 87.33L94 87.33Z" fill="none" stroke="#f01010" stroke-width="0.85"/>
<path d="M95.42 87.55L96.13 89.76L98.46 89.76L96.58 91.13L97.3 93.34L95.42 91.98L93.53 93.34L94.25 91.13L92.37 89.76L94.7 89.76Z" fill="none" stroke="#f01010" stroke-width="0.85"/>
<path d="M96.11 89.98L96.83 92.19L99.15 92.19L97.27 93.56L97.99 95.77L96.11 94.41L94.23 95.77L94.95 93.56L93.07 92.19L95.39 92.19Z" fill="none" stroke="#f01010" stroke-width="0.85"/>
<path d="M96.8 92.41L97.52 94.62L99.85 94.62L97.97 95.99L98.68 98.2L96.8 96.83L94.92 98.2L95.64 95.99L93.76 94.62L96.09 94.62Z" fill="none" stroke="#f01010" stroke-width="0.85"/>
<path d="M97.75 94.84L98.47 97.05L100.8 97.05L98.92 98.42L99.64 100.63L97.75 99.26L95.87 100.63L96.59 98.42L94.71 97.05L97.04 97.05Z" fill="none" stroke="#f01010" stroke-width="0.85"/>
<path d="M98.81 97.27L99.53 99.48L101.85 99.48L99.97 100.85L100.69 103.06L98.81 101.69L96.93 103.06L97.65 100.85L95.76 99.48L98.09 99.48Z" fill="none" stroke="#f01010" stroke-width="0.85"/>
<path d="M99.86 99.7L100.58 101.91L102.9 101.91L101.02 103.28L101.74 105.49L99.86 104.12L97.98 105.49L98.7 103.28L96.82 101.91L99.14 101.91Z" fill="none" stroke="#f01010" stroke-width="0.85"/>
<path d="M100.91 102.13L101.63 104.34L103.96 104.34L102.08 105.71L102.79 107.92L100.91 106.55L99.03 107.92L99.75 105.71L97.87 104.34L100.2 104.34Z" fill="none" stroke="#f01010" stroke-width="0.85"/>
<path d="M101.97 104.56L102.68 106.77L105.01 106.77L103.13 108.14L103.85 110.35L101.97 108.98L100.09 110.35L100.8 108.14L98.92 106.77L101.25 106.77Z" fill="none" stroke="#f01010" stroke-width="0.85"/>
<path d="M103.02 106.99L103.74 109.2L106.06 109.2L104.18 110.57L104.9 112.78L103.02 111.41L101.14 112.78L101.86 110.57L99.98 109.2L102.3 109.2Z" fill="none" stroke="#f01010" stroke-width="0.85"/>
<path d="M104.08 109.42L104.8 111.63L107.12 111.63L105.24 113L105.96 115.21L104.08 113.84L102.2 115.21L102.92 113L101.03 111.63L103.36 111.63Z" fill="none" stroke="#f01010" stroke-width="0.85"/>
<path d="M105.14 111.85L105.86 114.06L108.18 114.06L106.3 115.43L107.02 117.64L105.14 116.27L103.26 117.64L103.98 115.43L102.1 114.06L104.42 114.06Z" fill="none" stroke="#f01010" stroke-width="0.85"/>
<path d="M106.2 114.28L106.92 116.49L109.25 116.49L107.37 117.86L108.08 120.07L106.2 118.7L104.32 120.07L105.04 117.86L103.16 116.49L105.49 116.49Z" fill="none" stroke="#f01010" stroke-width="0.85"/>
<path d="M107.27 116.71L107.99 118.92L110.31 118.92L108.43 120.29L109.15 122.5L107.27 121.13L105.39 122.5L106.1 120.29L104.22 118.92L106.55 118.92Z" fill="none" stroke="#f01010" stroke-width="0.85"/>
<path d="M108.33 119.14L109.05 121.35L111.37 121.35L109.49 122.72L110.21 124.93L108.33 123.56L106.45 124.93L107.17 122.72L105.29 121.35L107.61 121.35Z" fill="none" stroke="#f01010" stroke-width="0.85"/>
<path d="M109.39 121.57L110.11 123.78L112.44 123.78L110.56 125.15L111.27 127.36L109.39 125.99L107.51 127.36L108.23 125.15L106.35 123.78L108.67 123.78Z" fill="none" stroke="#f01010" stroke-width="0.85"/>
<path d="M110.46 124L111.17 126.21L113.5 126.21L111.62 127.58L112.34 129.79L110.46 128.42L108.57 129.79L109.29 127.58L107.41 126.21L109.74 126.21Z" fill="none" stroke="#f01010" stroke-width="0.85"/>
<path d="M111.18 126.43L111.9 128.64L114.22 128.64L112.34 130.01L113.06 132.22L111.18 130.85L109.3 132.22L110.02 130.01L108.14 128.64L110.46 128.64Z" fill="none" stroke="#f01010" stroke-width="0.85"/>
<path d="M111.89 128.86L112.61 131.07L114.93 131.07L113.05 132.44L113.77 134.65L111.89 133.28L110.01 134.65L110.73 132.44L108.84 131.07L111.17 131.07Z" fill="none" stroke="#f01010" stroke-width="0.85"/>
<path d="M112.6 131.29L113.31 133.5L115.64 133.5L113.76 134.87L114.48 137.08L112.6 135.71L110.72 137.08L111.43 134.87L109.55 133.5L111.88 133.5Z" fill="none" stroke="#f01010" stroke-width="0.85"/>
<path d="M113.31 133.72L114.02 135.93L116.35 135.93L114.47 137.29L115.19 139.51L113.31 138.14L111.42 139.51L112.14 137.29L110.26 135.93L112.59 135.93Z" fill="none" stroke="#f01010" stroke-width="0.85"/>
<path d="M114.02 136.15L114.74 138.36L117.06 138.36L115.18 139.72L115.9 141.94L114.02 140.57L112.14 141.94L112.86 139.72L110.98 138.36L113.3 138.36Z" fill="none" stroke="#f01010" stroke-width="0.85"/>
<path d="M115.02 138.58L115.74 140.79L118.06 140.79L116.18 142.15L116.9 144.37L115.02 143L113.14 144.37L113.86 142.15L111.98 140.79L114.3 140.79Z" fill="none" stroke="#f01010" stroke-width="0.85"/>
<path d="M116.02 141.01L116.74 143.22L119.06 143.22L117.18 144.58L117.9 146.8L116.02 145.43L114.14 146.8L114.86 144.58L112.98 143.22L115.3 143.22Z" fill="none" stroke="#f01010" stroke-width="0.85"/>
<path d="M117.02 143.44L117.74 145.65L120.06 145.65L118.18 147.01L118.9 149.22L117.02 147.86L115.14 149.22L115.86 147.01L113.98 145.65L116.3 145.65Z" fill="none" stroke="#f01010" stroke-width="0.85"/>
<path d="M118.24 145.87L118.96 148.08L121.29 148.08L119.41 149.44L120.13 151.65L118.24 150.29L116.36 151.65L117.08 149.44L115.2 148.08L117.53 148.08Z" fill="none" stroke="#f01010" stroke-width="0.85"/>
<path d="M119.67 148.3L120.39 150.51L122.72 150.51L120.84 151.87L121.55 154.08L119.67 152.72L117.79 154.08L118.51 151.87L116.63 150.51L118.96 150.51Z" fill="none" stroke="#f01010" stroke-width="0.85"/>
<path d="M121.1 150.73L121.82 152.94L124.15 152.94L122.27 154.3L122.98 156.51L121.1 155.15L119.22 156.51L119.94 154.3L118.06 152.94L120.38 152.94Z" fill="none" stroke="#f01010" stroke-width="0.85"/>
<path d="M122.54 153.15L123.26 155.37L125.58 155.37L123.7 156.73L124.42 158.94L122.54 157.58L120.66 158.94L121.37 156.73L119.49 155.37L121.82 155.37Z" fill="none" stroke="#f01010" stroke-width="0.85"/>
<path d="M124.2 155.58L124.92 157.8L127.25 157.8L125.36 159.16L126.08 161.37L124.2 160.01L122.32 161.37L123.04 159.16L121.16 157.8L123.48 157.8Z" fill="none" stroke="#f01010" stroke-width="0.85"/>
<path d="M125.87 158.01L126.58 160.23L128.91 160.23L127.03 161.59L127.75 163.8L125.87 162.44L123.98 163.8L124.7 161.59L122.82 160.23L125.15 160.23Z" fill="none" stroke="#f01010" stroke-width="0.85"/>
<path d="M127.56 160.44L128.28 162.65L130.6 162.65L128.72 164.02L129.44 166.23L127.56 164.87L125.68 166.23L126.39 164.02L124.51 162.65L126.84 162.65Z" fill="none" stroke="#f01010" stroke-width="0.85"/>
<path d="M130.75 162.87L131.47 165.08L133.8 165.08L131.92 166.45L132.64 168.66L130.75 167.3L128.87 168.66L129.59 166.45L127.71 165.08L130.04 165.08Z" fill="none" stroke="#f01010" stroke-width="0.85"/>
<path d="M133.95 165.3L134.67 167.51L136.99 167.51L135.11 168.88L135.83 171.09L133.95 169.73L132.07 171.09L132.79 168.88L130.91 167.51L133.23 167.51Z" fill="none" stroke="#f01010" stroke-width="0.85"/>
<path d="M137.88 167.73L138.6 169.94L140.92 169.94L139.04 171.31L139.76 173.52L137.88 172.16L136 173.52L136.72 171.31L134.84 169.94L137.16 169.94Z" fill="none" stroke="#f01010" stroke-width="0.85"/>
<path d="M142.16 170.16L142.88 172.37L145.21 172.37L143.33 173.74L144.05 175.95L142.16 174.58L140.28 175.95L141 173.74L139.12 172.37L141.45 172.37Z" fill="none" stroke="#f01010" stroke-width="0.85"/>
<path d="M146.71 172.59L147.43 174.8L149.76 174.8L147.88 176.17L148.59 178.38L146.71 177.01L144.83 178.38L145.55 176.17L143.67 174.8L145.99 174.8Z" fill="none" stroke="#f01010" stroke-width="0.85"/>
<path d="M151.64 175.02L152.36 177.23L154.68 177.23L152.8 178.6L153.52 180.81L151.64 179.44L149.76 180.81L150.48 178.6L148.6 177.23L150.92 177.23Z" fill="none" stroke="#f01010" stroke-width="0.85"/>
<path d="M161.96 177.45L162.68 179.66L165.01 179.66L163.13 181.03L163.84 183.24L161.96 181.87L160.08 183.24L160.8 181.03L158.92 179.66L161.24 179.66Z" fill="none" stroke="#f01010" stroke-width="0.85"/>
<path d="M165.41 179.88L166.13 182.09L168.45 182.09L166.57 183.46L167.29 185.67L165.41 184.3L163.53 185.67L164.25 183.46L162.36 182.09L164.69 182.09Z" fill="none" stroke="#f01010" stroke-width="0.85"/>
<path d="M168.53 182.31L169.25 184.52L171.58 184.52L169.7 185.89L170.41 188.1L168.53 186.73L166.65 188.1L167.37 185.89L165.49 184.52L167.81 184.52Z" fill="none" stroke="#f01010" stroke-width="0.85"/>
<path d="M174.57 184.74L175.29 186.95L177.61 186.95L175.73 188.32L176.45 190.53L174.57 189.16L172.69 190.53L173.41 188.32L171.52 186.95L173.85 186.95Z" fill="none" stroke="#f01010" stroke-width="0.85"/>
<path d="M194.1 187.17L194.82 189.38L197.15 189.38L195.27 190.75L195.99 192.96L194.1 191.59L192.22 192.96L192.94 190.75L191.06 189.38L193.39 189.38Z" fill="none" stroke="#f01010" stroke-width="0.85"/></g>
<rect x="33.5" y="6" width="258.5" height="202" fill="none" stroke="#666" stroke-width="1"/>
<path d="M33.5 208V205M33.5 6V9" stroke="#666" stroke-width="1"/>
<path d="M70.5 208V205M70.5 6V9" stroke="#666" stroke-width="1"/>
<path d="M107.5 208V205M107.5 6V9" stroke="#666" stroke-width="1"/>
<path d="M144.5 208V205M144.5 6V9" stroke="#666" stroke-width="1"/>
<path d="M181.5 208V205M181.5 6V9" stroke="#666" stroke-width="1"/>
<path d="M218.5 208V205M218.5 6V9" stroke="#666" stroke-width="1"/>
<path d="M255.5 208V205M255.5 6V9" stroke="#666" stroke-width="1"/>
<path d="M292.5 208V205M292.5 6V9" stroke="#666" stroke-width="1"/>
<path d="M33.5 192.5H36.5M292 192.5H289" stroke="#666" stroke-width="1"/>
<path d="M33.5 161.4H36.5M292 161.4H289" stroke="#666" stroke-width="1"/>
<path d="M33.5 130.3H36.5M292 130.3H289" stroke="#666" stroke-width="1"/>
<path d="M33.5 99.2H36.5M292 99.2H289" stroke="#666" stroke-width="1"/>
<path d="M33.5 68.1H36.5M292 68.1H289" stroke="#666" stroke-width="1"/>
<path d="M33.5 37H36.5M292 37H289" stroke="#666" stroke-width="1"/>
<path d="M33.5 5.9H36.5M292 5.9H289" stroke="#666" stroke-width="1"/>
<text x="33.5" y="218.9" text-anchor="middle">0</text>
<text x="70.5" y="218.9" text-anchor="middle">2</text>
<text x="107.5" y="218.9" text-anchor="middle">4</text>
<text x="144.5" y="218.9" text-anchor="middle">6</text>
<text x="181.5" y="218.9" text-anchor="middle">8</text>
<text x="218.5" y="218.9" text-anchor="middle">10</text>
<text x="255.5" y="218.9" text-anchor="middle">12</text>
<text x="292.5" y="218.9" text-anchor="middle">14</text>
<text x="31.4" y="196.1" text-anchor="end">0</text>
<text x="31.4" y="165" text-anchor="end">0.2</text>
<text x="31.4" y="133.9" text-anchor="end">0.4</text>
<text x="31.4" y="102.8" text-anchor="end">0.6</text>
<text x="31.4" y="71.7" text-anchor="end">0.8</text>
<text x="31.4" y="40.6" text-anchor="end">1</text>
<text x="31.4" y="9.5" text-anchor="end">1.2</text>
<rect x="205.5" y="9.4" width="83.3" height="73.2" fill="#fff" stroke="#666" stroke-width="1"/>
<rect x="218.4" y="14.5" width="3.4" height="3.4" fill="none" stroke="#ff00ff" stroke-width="0.6"/>
<text x="232.6" y="19.7" font-size="10.1">Cold cores</text>
<path d="M220.1 25.7L222.5 30.02L217.7 30.02Z" fill="none" stroke="#1e801e" stroke-width="0.6"/>
<text x="232.6" y="31.6" font-size="10.1">IRAS&#8211;Wang</text>
<path d="M218 40H222.2M220.1 37.9V42.1" stroke="#40baba" stroke-width="0.6"/>
<text x="232.6" y="43.5" font-size="10.1">Methanol</text>
<circle cx="220.1" cy="51.9" r="0.8" fill="#a02ab0"/>
<text x="232.6" y="55.4" font-size="10.1">IRAS&#8211;Wu</text>
<circle cx="220.1" cy="63.8" r="2.0" fill="none" stroke="#0000ff" stroke-width="0.7"/>
<text x="232.6" y="67.3" font-size="10.1">IRDCs</text>
<path d="M220.1 72.7L220.84 74.98L223.24 74.98L221.3 76.39L222.04 78.67L220.1 77.26L218.16 78.67L218.9 76.39L216.96 74.98L219.36 74.98Z" fill="none" stroke="#f01010" stroke-width="0.6"/>
<text x="232.6" y="79.2" font-size="10.1">EGOs</text>
<text x="41.8" y="23.8" font-size="11.3">(a)</text>
<text transform="translate(11.7,163.8) rotate(-90)" font-size="13.2">Cumulative fraction</text>
<text y="236.5" font-size="13.3"><tspan x="115.4">FWHM (km s</tspan><tspan x="193.4" y="229.9" font-size="9.5">&#8722;</tspan><tspan x="200.6" y="229.9" font-size="9.5">1</tspan><tspan x="205.5" y="236.5">)</tspan></text>

<g><path d="M396 40.6L405 42.4L414 45.2L420 48.2" fill="none" stroke="#ff00ff" stroke-width="3" stroke-linecap="round"/>
<path d="M421 48.8L423.6 50.2L428 55L432 60L435.5 65L438.9 70L442.5 75L444.8 80L446.8 86L448.1 95L452.2 108L455.5 118.8L457.5 128L460 140L462.5 153L465.5 160L469.5 170L473.5 180L477 184.5L482 187.8L488 189.6" fill="none" stroke="#ff00ff" stroke-width="5.2" stroke-linejoin="round" stroke-linecap="round"/>
<rect x="367.35" y="36.55" width="3.5" height="3.5" fill="none" stroke="#ff00ff" stroke-width="0.75"/>
<rect x="373.75" y="36.55" width="3.5" height="3.5" fill="none" stroke="#ff00ff" stroke-width="0.75"/>
<rect x="382.05" y="37.35" width="3.5" height="3.5" fill="none" stroke="#ff00ff" stroke-width="0.75"/>
<rect x="385.45" y="37.75" width="3.5" height="3.5" fill="none" stroke="#ff00ff" stroke-width="0.75"/>
<rect x="388.85" y="38.15" width="3.5" height="3.5" fill="none" stroke="#ff00ff" stroke-width="0.75"/>
<rect x="392.35" y="38.55" width="3.5" height="3.5" fill="none" stroke="#ff00ff" stroke-width="0.75"/>
<rect x="395.75" y="38.95" width="3.5" height="3.5" fill="none" stroke="#ff00ff" stroke-width="0.75"/>
<rect x="488.15" y="188.55" width="3.5" height="3.5" fill="none" stroke="#ff00ff" stroke-width="0.75"/>
<rect x="493.65" y="189.05" width="3.5" height="3.5" fill="none" stroke="#ff00ff" stroke-width="0.75"/>
<rect x="507.15" y="190.05" width="3.5" height="3.5" fill="none" stroke="#ff00ff" stroke-width="0.75"/>
<rect x="513.35" y="190.45" width="3.5" height="3.5" fill="none" stroke="#ff00ff" stroke-width="0.75"/>
<path d="M434.62 36L436.62 39.6L432.62 39.6Z" fill="none" stroke="#1e801e" stroke-width="0.8"/>
<path d="M439.25 38.27L441.25 41.87L437.25 41.87Z" fill="none" stroke="#1e801e" stroke-width="0.8"/>
<path d="M441.17 40.55L443.17 44.15L439.17 44.15Z" fill="none" stroke="#1e801e" stroke-width="0.8"/>
<path d="M443.36 42.82L445.36 46.42L441.36 46.42Z" fill="none" stroke="#1e801e" stroke-width="0.8"/>
<path d="M445.96 45.09L447.96 48.69L443.96 48.69Z" fill="none" stroke="#1e801e" stroke-width="0.8"/>
<path d="M447.98 47.37L449.98 50.97L445.98 50.97Z" fill="none" stroke="#1e801e" stroke-width="0.8"/>
<path d="M449.6 49.64L451.6 53.24L447.6 53.24Z" fill="none" stroke="#1e801e" stroke-width="0.8"/>
<path d="M451.07 51.91L453.07 55.51L449.07 55.51Z" fill="none" stroke="#1e801e" stroke-width="0.8"/>
<path d="M452.49 54.19L454.49 57.79L450.49 57.79Z" fill="none" stroke="#1e801e" stroke-width="0.8"/>
<path d="M453.87 56.46L455.87 60.06L451.87 60.06Z" fill="none" stroke="#1e801e" stroke-width="0.8"/>
<path d="M455.23 58.74L457.23 62.34L453.23 62.34Z" fill="none" stroke="#1e801e" stroke-width="0.8"/>
<path d="M456.16 61.01L458.16 64.61L454.16 64.61Z" fill="none" stroke="#1e801e" stroke-width="0.8"/>
<path d="M456.77 63.28L458.77 66.88L454.77 66.88Z" fill="none" stroke="#1e801e" stroke-width="0.8"/>
<path d="M457.39 65.56L459.39 69.16L455.39 69.16Z" fill="none" stroke="#1e801e" stroke-width="0.8"/>
<path d="M458.15 67.83L460.15 71.43L456.15 71.43Z" fill="none" stroke="#1e801e" stroke-width="0.8"/>
<path d="M459.06 70.1L461.06 73.7L457.06 73.7Z" fill="none" stroke="#1e801e" stroke-width="0.8"/>
<path d="M459.87 72.38L461.87 75.98L457.87 75.98Z" fill="none" stroke="#1e801e" stroke-width="0.8"/>
<path d="M460.43 74.65L462.43 78.25L458.43 78.25Z" fill="none" stroke="#1e801e" stroke-width="0.8"/>
<path d="M460.99 76.92L462.99 80.52L458.99 80.52Z" fill="none" stroke="#1e801e" stroke-width="0.8"/>
<path d="M461.56 79.2L463.56 82.8L459.56 82.8Z" fill="none" stroke="#1e801e" stroke-width="0.8"/>
<path d="M462.12 81.47L464.12 85.07L460.12 85.07Z" fill="none" stroke="#1e801e" stroke-width="0.8"/>
<path d="M462.65 83.74L464.65 87.34L460.65 87.34Z" fill="none" stroke="#1e801e" stroke-width="0.8"/>
<path d="M463.1 86.02L465.1 89.62L461.1 89.62Z" fill="none" stroke="#1e801e" stroke-width="0.8"/>
<path d="M463.56 88.29L465.56 91.89L461.56 91.89Z" fill="none" stroke="#1e801e" stroke-width="0.8"/>
<path d="M464.01 90.56L466.01 94.16L462.01 94.16Z" fill="none" stroke="#1e801e" stroke-width="0.8"/>
<path d="M464.47 92.84L466.47 96.44L462.47 96.44Z" fill="none" stroke="#1e801e" stroke-width="0.8"/>
<path d="M464.92 95.11L466.92 98.71L462.92 98.71Z" fill="none" stroke="#1e801e" stroke-width="0.8"/>
<path d="M465.38 97.39L467.38 100.99L463.38 100.99Z" fill="none" stroke="#1e801e" stroke-width="0.8"/>
<path d="M466.02 99.66L468.02 103.26L464.02 103.26Z" fill="none" stroke="#1e801e" stroke-width="0.8"/>
<path d="M466.73 101.93L468.73 105.53L464.73 105.53Z" fill="none" stroke="#1e801e" stroke-width="0.8"/>
<path d="M467.44 104.21L469.44 107.81L465.44 107.81Z" fill="none" stroke="#1e801e" stroke-width="0.8"/>
<path d="M468.16 106.48L470.16 110.08L466.16 110.08Z" fill="none" stroke="#1e801e" stroke-width="0.8"/>
<path d="M468.87 108.75L470.87 112.35L466.87 112.35Z" fill="none" stroke="#1e801e" stroke-width="0.8"/>
<path d="M469.58 111.03L471.58 114.63L467.58 114.63Z" fill="none" stroke="#1e801e" stroke-width="0.8"/>
<path d="M470.26 113.3L472.26 116.9L468.26 116.9Z" fill="none" stroke="#1e801e" stroke-width="0.8"/>
<path d="M470.75 115.57L472.75 119.17L468.75 119.17Z" fill="none" stroke="#1e801e" stroke-width="0.8"/>
<path d="M471.24 117.85L473.24 121.45L469.24 121.45Z" fill="none" stroke="#1e801e" stroke-width="0.8"/>
<path d="M471.73 120.12L473.73 123.72L469.73 123.72Z" fill="none" stroke="#1e801e" stroke-width="0.8"/>
<path d="M472.22 122.39L474.22 125.99L470.22 125.99Z" fill="none" stroke="#1e801e" stroke-width="0.8"/>
<path d="M472.71 124.67L474.71 128.27L470.71 128.27Z" fill="none" stroke="#1e801e" stroke-width="0.8"/>
<path d="M473.12 126.94L475.12 130.54L471.12 130.54Z" fill="none" stroke="#1e801e" stroke-width="0.8"/>
<path d="M473.42 129.21L475.42 132.81L471.42 132.81Z" fill="none" stroke="#1e801e" stroke-width="0.8"/>
<path d="M473.71 131.49L475.71 135.09L471.71 135.09Z" fill="none" stroke="#1e801e" stroke-width="0.8"/>
<path d="M474.01 133.76L476.01 137.36L472.01 137.36Z" fill="none" stroke="#1e801e" stroke-width="0.8"/>
<path d="M474.3 136.04L476.3 139.64L472.3 139.64Z" fill="none" stroke="#1e801e" stroke-width="0.8"/>
<path d="M474.6 138.31L476.6 141.91L472.6 141.91Z" fill="none" stroke="#1e801e" stroke-width="0.8"/>
<path d="M474.89 140.58L476.89 144.18L472.89 144.18Z" fill="none" stroke="#1e801e" stroke-width="0.8"/>
<path d="M475.19 142.86L477.19 146.46L473.19 146.46Z" fill="none" stroke="#1e801e" stroke-width="0.8"/>
<path d="M475.48 145.13L477.48 148.73L473.48 148.73Z" fill="none" stroke="#1e801e" stroke-width="0.8"/>
<path d="M475.77 147.4L477.77 151L473.77 151Z" fill="none" stroke="#1e801e" stroke-width="0.8"/>
<path d="M476.07 149.68L478.07 153.28L474.07 153.28Z" fill="none" stroke="#1e801e" stroke-width="0.8"/>
<path d="M476.36 151.95L478.36 155.55L474.36 155.55Z" fill="none" stroke="#1e801e" stroke-width="0.8"/>
<path d="M476.99 154.22L478.99 157.82L474.99 157.82Z" fill="none" stroke="#1e801e" stroke-width="0.8"/>
<path d="M477.9 156.5L479.9 160.1L475.9 160.1Z" fill="none" stroke="#1e801e" stroke-width="0.8"/>
<path d="M478.75 158.77L480.75 162.37L476.75 162.37Z" fill="none" stroke="#1e801e" stroke-width="0.8"/>
<path d="M479.47 161.04L481.47 164.64L477.47 164.64Z" fill="none" stroke="#1e801e" stroke-width="0.8"/>
<path d="M480.2 163.32L482.2 166.92L478.2 166.92Z" fill="none" stroke="#1e801e" stroke-width="0.8"/>
<path d="M480.93 165.59L482.93 169.19L478.93 169.19Z" fill="none" stroke="#1e801e" stroke-width="0.8"/>
<path d="M481.66 167.86L483.66 171.46L479.66 171.46Z" fill="none" stroke="#1e801e" stroke-width="0.8"/>
<path d="M482.38 170.14L484.38 173.74L480.38 173.74Z" fill="none" stroke="#1e801e" stroke-width="0.8"/>
<path d="M484.24 172.41L486.24 176.01L482.24 176.01Z" fill="none" stroke="#1e801e" stroke-width="0.8"/>
<path d="M486.3 174.69L488.3 178.29L484.3 178.29Z" fill="none" stroke="#1e801e" stroke-width="0.8"/>
<path d="M488.38 176.96L490.38 180.56L486.38 180.56Z" fill="none" stroke="#1e801e" stroke-width="0.8"/>
<path d="M490.46 179.23L492.46 182.83L488.46 182.83Z" fill="none" stroke="#1e801e" stroke-width="0.8"/>
<path d="M492.55 181.51L494.55 185.11L490.55 185.11Z" fill="none" stroke="#1e801e" stroke-width="0.8"/>
<path d="M494.78 183.78L496.78 187.38L492.78 187.38Z" fill="none" stroke="#1e801e" stroke-width="0.8"/>
<path d="M497.05 186.05L499.05 189.65L495.05 189.65Z" fill="none" stroke="#1e801e" stroke-width="0.8"/>
<path d="M498 188.33L500 191.93L496 191.93Z" fill="none" stroke="#1e801e" stroke-width="0.8"/>
<path d="M437.69 38H441.89M439.79 35.9V40.1" stroke="#40baba" stroke-width="0.75"/>
<path d="M444.47 39.93H448.67M446.57 37.83V42.03" stroke="#40baba" stroke-width="0.75"/>
<path d="M445.8 41.87H450M447.9 39.77V43.97" stroke="#40baba" stroke-width="0.75"/>
<path d="M451.69 43.8H455.89M453.79 41.7V45.9" stroke="#40baba" stroke-width="0.75"/>
<path d="M452.9 45.73H457.1M455 43.63V47.83" stroke="#40baba" stroke-width="0.75"/>
<path d="M458.9 47.66H463.1M461 45.56V49.76" stroke="#40baba" stroke-width="0.75"/>
<path d="M458.9 49.59H463.1M461 47.49V51.7" stroke="#40baba" stroke-width="0.75"/>
<path d="M458.9 51.53H463.1M461 49.43V53.63" stroke="#40baba" stroke-width="0.75"/>
<path d="M462.19 53.46H466.39M464.29 51.36V55.56" stroke="#40baba" stroke-width="0.75"/>
<path d="M463.6 55.39H467.8M465.7 53.29V57.49" stroke="#40baba" stroke-width="0.75"/>
<path d="M463.6 57.32H467.8M465.7 55.22V59.42" stroke="#40baba" stroke-width="0.75"/>
<path d="M463.6 59.26H467.8M465.7 57.16V61.36" stroke="#40baba" stroke-width="0.75"/>
<path d="M463.7 61.19H467.9M465.8 59.09V63.29" stroke="#40baba" stroke-width="0.75"/>
<path d="M464.69 63.12H468.89M466.79 61.02V65.22" stroke="#40baba" stroke-width="0.75"/>
<path d="M465.67 65.06H469.87M467.77 62.96V67.16" stroke="#40baba" stroke-width="0.75"/>
<path d="M466.93 66.99H471.13M469.03 64.89V69.09" stroke="#40baba" stroke-width="0.75"/>
<path d="M468.23 68.92H472.43M470.33 66.82V71.02" stroke="#40baba" stroke-width="0.75"/>
<path d="M469.53 70.85H473.73M471.63 68.75V72.95" stroke="#40baba" stroke-width="0.75"/>
<path d="M470.83 72.78H475.03M472.93 70.69V74.88" stroke="#40baba" stroke-width="0.75"/>
<path d="M472.13 74.72H476.33M474.23 72.62V76.82" stroke="#40baba" stroke-width="0.75"/>
<path d="M473.43 76.65H477.63M475.53 74.55V78.75" stroke="#40baba" stroke-width="0.75"/>
<path d="M477.86 78.58H482.06M479.96 76.48V80.68" stroke="#40baba" stroke-width="0.75"/>
<path d="M478.5 80.52H482.7M480.6 78.42V82.61" stroke="#40baba" stroke-width="0.75"/>
<path d="M478.5 82.45H482.7M480.6 80.35V84.55" stroke="#40baba" stroke-width="0.75"/>
<path d="M478.5 84.38H482.7M480.6 82.28V86.48" stroke="#40baba" stroke-width="0.75"/>
<path d="M478.5 86.31H482.7M480.6 84.21V88.41" stroke="#40baba" stroke-width="0.75"/>
<path d="M478.5 88.24H482.7M480.6 86.14V90.34" stroke="#40baba" stroke-width="0.75"/>
<path d="M479.58 90.18H483.78M481.68 88.08V92.28" stroke="#40baba" stroke-width="0.75"/>
<path d="M481.53 92.11H485.73M483.63 90.01V94.21" stroke="#40baba" stroke-width="0.75"/>
<path d="M483.52 94.04H487.72M485.62 91.94V96.14" stroke="#40baba" stroke-width="0.75"/>
<path d="M484.85 95.97H489.05M486.95 93.88V98.07" stroke="#40baba" stroke-width="0.75"/>
<path d="M485.55 97.91H489.75M487.65 95.81V100.01" stroke="#40baba" stroke-width="0.75"/>
<path d="M486.24 99.84H490.44M488.34 97.74V101.94" stroke="#40baba" stroke-width="0.75"/>
<path d="M486.94 101.77H491.14M489.04 99.67V103.87" stroke="#40baba" stroke-width="0.75"/>
<path d="M487.63 103.7H491.83M489.73 101.61V105.8" stroke="#40baba" stroke-width="0.75"/>
<path d="M488.33 105.64H492.53M490.43 103.54V107.74" stroke="#40baba" stroke-width="0.75"/>
<path d="M489.03 107.57H493.23M491.13 105.47V109.67" stroke="#40baba" stroke-width="0.75"/>
<path d="M489.72 109.5H493.92M491.82 107.4V111.6" stroke="#40baba" stroke-width="0.75"/>
<path d="M492.59 111.43H496.79M494.69 109.33V113.53" stroke="#40baba" stroke-width="0.75"/>
<path d="M496.21 113.37H500.41M498.31 111.27V115.47" stroke="#40baba" stroke-width="0.75"/>
<path d="M499.84 115.3H504.04M501.94 113.2V117.4" stroke="#40baba" stroke-width="0.75"/>
<path d="M501.7 117.23H505.9M503.8 115.13V119.33" stroke="#40baba" stroke-width="0.75"/>
<path d="M503.24 119.17H507.44M505.34 117.07V121.27" stroke="#40baba" stroke-width="0.75"/>
<path d="M504.77 121.1H508.97M506.87 119V123.2" stroke="#40baba" stroke-width="0.75"/>
<path d="M506.31 123.03H510.51M508.41 120.93V125.13" stroke="#40baba" stroke-width="0.75"/>
<path d="M507.4 124.96H511.6M509.5 122.86V127.06" stroke="#40baba" stroke-width="0.75"/>
<path d="M507.4 126.89H511.6M509.5 124.8V129" stroke="#40baba" stroke-width="0.75"/>
<path d="M507.4 128.83H511.6M509.5 126.73V130.93" stroke="#40baba" stroke-width="0.75"/>
<path d="M507.4 130.76H511.6M509.5 128.66V132.86" stroke="#40baba" stroke-width="0.75"/>
<path d="M507.4 132.69H511.6M509.5 130.59V134.79" stroke="#40baba" stroke-width="0.75"/>
<path d="M507.4 134.62H511.6M509.5 132.53V136.72" stroke="#40baba" stroke-width="0.75"/>
<path d="M508.14 136.56H512.34M510.24 134.46V138.66" stroke="#40baba" stroke-width="0.75"/>
<path d="M509.05 138.49H513.25M511.15 136.39V140.59" stroke="#40baba" stroke-width="0.75"/>
<path d="M509.96 140.42H514.16M512.06 138.32V142.52" stroke="#40baba" stroke-width="0.75"/>
<path d="M510.87 142.35H515.07M512.97 140.25V144.45" stroke="#40baba" stroke-width="0.75"/>
<path d="M511.79 144.29H515.99M513.89 142.19V146.39" stroke="#40baba" stroke-width="0.75"/>
<path d="M512.7 146.22H516.9M514.8 144.12V148.32" stroke="#40baba" stroke-width="0.75"/>
<path d="M513.61 148.15H517.81M515.71 146.05V150.25" stroke="#40baba" stroke-width="0.75"/>
<path d="M514.52 150.08H518.72M516.62 147.98V152.18" stroke="#40baba" stroke-width="0.75"/>
<path d="M515.44 152.02H519.64M517.54 149.92V154.12" stroke="#40baba" stroke-width="0.75"/>
<path d="M516.61 153.95H520.81M518.71 151.85V156.05" stroke="#40baba" stroke-width="0.75"/>
<path d="M518.06 155.88H522.26M520.16 153.78V157.98" stroke="#40baba" stroke-width="0.75"/>
<path d="M519.39 157.81H523.59M521.49 155.72V159.91" stroke="#40baba" stroke-width="0.75"/>
<path d="M520.55 159.75H524.75M522.65 157.65V161.85" stroke="#40baba" stroke-width="0.75"/>
<path d="M521.72 161.68H525.92M523.82 159.58V163.78" stroke="#40baba" stroke-width="0.75"/>
<path d="M522.9 163.61H527.1M525 161.51V165.71" stroke="#40baba" stroke-width="0.75"/>
<path d="M524.07 165.54H528.27M526.17 163.44V167.64" stroke="#40baba" stroke-width="0.75"/>
<path d="M525.25 167.48H529.45M527.35 165.38V169.58" stroke="#40baba" stroke-width="0.75"/>
<path d="M526.42 169.41H530.62M528.52 167.31V171.51" stroke="#40baba" stroke-width="0.75"/>
<path d="M527.6 171.34H531.8M529.7 169.24V173.44" stroke="#40baba" stroke-width="0.75"/>
<path d="M529.01 173.28H533.21M531.11 171.18V175.38" stroke="#40baba" stroke-width="0.75"/>
<path d="M530.77 175.21H534.97M532.87 173.11V177.31" stroke="#40baba" stroke-width="0.75"/>
<path d="M532.54 177.14H536.74M534.64 175.04V179.24" stroke="#40baba" stroke-width="0.75"/>
<path d="M534.3 179.07H538.5M536.4 176.97V181.17" stroke="#40baba" stroke-width="0.75"/>
<path d="M536.86 181H541.06M538.96 178.91V183.1" stroke="#40baba" stroke-width="0.75"/>
<path d="M539.58 182.94H543.78M541.68 180.84V185.04" stroke="#40baba" stroke-width="0.75"/>
<path d="M542.2 184.87H546.4M544.3 182.77V186.97" stroke="#40baba" stroke-width="0.75"/>
<path d="M544.56 186.8H548.76M546.66 184.7V188.9" stroke="#40baba" stroke-width="0.75"/>
<path d="M546.92 188.73H551.12M549.02 186.63V190.83" stroke="#40baba" stroke-width="0.75"/>
<path d="M549.2 190.67H553.4M551.3 188.57V192.77" stroke="#40baba" stroke-width="0.75"/>
<circle cx="362.8" cy="38.3" r="2.1" fill="none" stroke="#0000ff" stroke-width="1.3"/>
<circle cx="380.6" cy="39.1" r="2.1" fill="none" stroke="#0000ff" stroke-width="1.3"/>
<circle cx="397.9" cy="40.7" r="2.1" fill="none" stroke="#0000ff" stroke-width="1.3"/>
<circle cx="407.9" cy="44" r="2.1" fill="none" stroke="#0000ff" stroke-width="1.3"/>
<circle cx="417.9" cy="46.4" r="2.1" fill="none" stroke="#0000ff" stroke-width="1.3"/>
<circle cx="523.5" cy="192" r="2.1" fill="none" stroke="#0000ff" stroke-width="1.3"/>
<circle cx="424.6" cy="47.89" r="2.1" fill="none" stroke="#0000ff" stroke-width="1.3"/>
<circle cx="428.76" cy="49.13" r="2.1" fill="none" stroke="#0000ff" stroke-width="1.3"/>
<circle cx="432.08" cy="50.37" r="2.1" fill="none" stroke="#0000ff" stroke-width="1.3"/>
<circle cx="435.05" cy="51.6" r="2.1" fill="none" stroke="#0000ff" stroke-width="1.3"/>
<circle cx="437.49" cy="52.84" r="2.1" fill="none" stroke="#0000ff" stroke-width="1.3"/>
<circle cx="439.67" cy="54.08" r="2.1" fill="none" stroke="#0000ff" stroke-width="1.3"/>
<circle cx="441.58" cy="55.32" r="2.1" fill="none" stroke="#0000ff" stroke-width="1.3"/>
<circle cx="442.67" cy="56.55" r="2.1" fill="none" stroke="#0000ff" stroke-width="1.3"/>
<circle cx="443.75" cy="57.79" r="2.1" fill="none" stroke="#0000ff" stroke-width="1.3"/>
<circle cx="444.84" cy="59.03" r="2.1" fill="none" stroke="#0000ff" stroke-width="1.3"/>
<circle cx="445.93" cy="60.26" r="2.1" fill="none" stroke="#0000ff" stroke-width="1.3"/>
<circle cx="447.02" cy="61.5" r="2.1" fill="none" stroke="#0000ff" stroke-width="1.3"/>
<circle cx="448.11" cy="62.74" r="2.1" fill="none" stroke="#0000ff" stroke-width="1.3"/>
<circle cx="449.2" cy="63.97" r="2.1" fill="none" stroke="#0000ff" stroke-width="1.3"/>
<circle cx="450.25" cy="65.21" r="2.1" fill="none" stroke="#0000ff" stroke-width="1.3"/>
<circle cx="451.13" cy="66.45" r="2.1" fill="none" stroke="#0000ff" stroke-width="1.3"/>
<circle cx="452.01" cy="67.68" r="2.1" fill="none" stroke="#0000ff" stroke-width="1.3"/>
<circle cx="452.88" cy="68.92" r="2.1" fill="none" stroke="#0000ff" stroke-width="1.3"/>
<circle cx="453.76" cy="70.16" r="2.1" fill="none" stroke="#0000ff" stroke-width="1.3"/>
<circle cx="454.64" cy="71.39" r="2.1" fill="none" stroke="#0000ff" stroke-width="1.3"/>
<circle cx="455.52" cy="72.63" r="2.1" fill="none" stroke="#0000ff" stroke-width="1.3"/>
<circle cx="456.4" cy="73.87" r="2.1" fill="none" stroke="#0000ff" stroke-width="1.3"/>
<circle cx="457.26" cy="75.1" r="2.1" fill="none" stroke="#0000ff" stroke-width="1.3"/>
<circle cx="457.94" cy="76.34" r="2.1" fill="none" stroke="#0000ff" stroke-width="1.3"/>
<circle cx="458.62" cy="77.58" r="2.1" fill="none" stroke="#0000ff" stroke-width="1.3"/>
<circle cx="459.3" cy="78.81" r="2.1" fill="none" stroke="#0000ff" stroke-width="1.3"/>
<circle cx="459.98" cy="80.05" r="2.1" fill="none" stroke="#0000ff" stroke-width="1.3"/>
<circle cx="460.66" cy="81.29" r="2.1" fill="none" stroke="#0000ff" stroke-width="1.3"/>
<circle cx="461.34" cy="82.52" r="2.1" fill="none" stroke="#0000ff" stroke-width="1.3"/>
<circle cx="462.02" cy="83.76" r="2.1" fill="none" stroke="#0000ff" stroke-width="1.3"/>
<circle cx="462.7" cy="85" r="2.1" fill="none" stroke="#0000ff" stroke-width="1.3"/>
<circle cx="463.14" cy="86.24" r="2.1" fill="none" stroke="#0000ff" stroke-width="1.3"/>
<circle cx="463.59" cy="87.47" r="2.1" fill="none" stroke="#0000ff" stroke-width="1.3"/>
<circle cx="464.04" cy="88.71" r="2.1" fill="none" stroke="#0000ff" stroke-width="1.3"/>
<circle cx="464.48" cy="89.95" r="2.1" fill="none" stroke="#0000ff" stroke-width="1.3"/>
<circle cx="464.93" cy="91.18" r="2.1" fill="none" stroke="#0000ff" stroke-width="1.3"/>
<circle cx="465.37" cy="92.42" r="2.1" fill="none" stroke="#0000ff" stroke-width="1.3"/>
<circle cx="465.82" cy="93.66" r="2.1" fill="none" stroke="#0000ff" stroke-width="1.3"/>
<circle cx="466.26" cy="94.89" r="2.1" fill="none" stroke="#0000ff" stroke-width="1.3"/>
<circle cx="466.8" cy="96.13" r="2.1" fill="none" stroke="#0000ff" stroke-width="1.3"/>
<circle cx="467.36" cy="97.37" r="2.1" fill="none" stroke="#0000ff" stroke-width="1.3"/>
<circle cx="467.91" cy="98.6" r="2.1" fill="none" stroke="#0000ff" stroke-width="1.3"/>
<circle cx="468.46" cy="99.84" r="2.1" fill="none" stroke="#0000ff" stroke-width="1.3"/>
<circle cx="469.01" cy="101.08" r="2.1" fill="none" stroke="#0000ff" stroke-width="1.3"/>
<circle cx="469.56" cy="102.31" r="2.1" fill="none" stroke="#0000ff" stroke-width="1.3"/>
<circle cx="470.11" cy="103.55" r="2.1" fill="none" stroke="#0000ff" stroke-width="1.3"/>
<circle cx="470.67" cy="104.79" r="2.1" fill="none" stroke="#0000ff" stroke-width="1.3"/>
<circle cx="471.22" cy="106.02" r="2.1" fill="none" stroke="#0000ff" stroke-width="1.3"/>
<circle cx="471.77" cy="107.26" r="2.1" fill="none" stroke="#0000ff" stroke-width="1.3"/>
<circle cx="472.55" cy="108.5" r="2.1" fill="none" stroke="#0000ff" stroke-width="1.3"/>
<circle cx="473.66" cy="109.73" r="2.1" fill="none" stroke="#0000ff" stroke-width="1.3"/>
<circle cx="474.77" cy="110.97" r="2.1" fill="none" stroke="#0000ff" stroke-width="1.3"/>
<circle cx="474.9" cy="112.21" r="2.1" fill="none" stroke="#0000ff" stroke-width="1.3"/>
<circle cx="475" cy="113.44" r="2.1" fill="none" stroke="#0000ff" stroke-width="1.3"/>
<circle cx="475.1" cy="114.68" r="2.1" fill="none" stroke="#0000ff" stroke-width="1.3"/>
<circle cx="475.21" cy="115.92" r="2.1" fill="none" stroke="#0000ff" stroke-width="1.3"/>
<circle cx="475.31" cy="117.16" r="2.1" fill="none" stroke="#0000ff" stroke-width="1.3"/>
<circle cx="475.41" cy="118.39" r="2.1" fill="none" stroke="#0000ff" stroke-width="1.3"/>
<circle cx="475.68" cy="119.63" r="2.1" fill="none" stroke="#0000ff" stroke-width="1.3"/>
<circle cx="477.41" cy="120.87" r="2.1" fill="none" stroke="#0000ff" stroke-width="1.3"/>
<circle cx="478.34" cy="122.1" r="2.1" fill="none" stroke="#0000ff" stroke-width="1.3"/>
<circle cx="478.41" cy="123.34" r="2.1" fill="none" stroke="#0000ff" stroke-width="1.3"/>
<circle cx="478.48" cy="124.58" r="2.1" fill="none" stroke="#0000ff" stroke-width="1.3"/>
<circle cx="478.55" cy="125.81" r="2.1" fill="none" stroke="#0000ff" stroke-width="1.3"/>
<circle cx="478.63" cy="127.05" r="2.1" fill="none" stroke="#0000ff" stroke-width="1.3"/>
<circle cx="478.7" cy="128.29" r="2.1" fill="none" stroke="#0000ff" stroke-width="1.3"/>
<circle cx="478.77" cy="129.52" r="2.1" fill="none" stroke="#0000ff" stroke-width="1.3"/>
<circle cx="479.45" cy="130.76" r="2.1" fill="none" stroke="#0000ff" stroke-width="1.3"/>
<circle cx="480.5" cy="132" r="2.1" fill="none" stroke="#0000ff" stroke-width="1.3"/>
<circle cx="480.58" cy="133.23" r="2.1" fill="none" stroke="#0000ff" stroke-width="1.3"/>
<circle cx="480.65" cy="134.47" r="2.1" fill="none" stroke="#0000ff" stroke-width="1.3"/>
<circle cx="480.73" cy="135.71" r="2.1" fill="none" stroke="#0000ff" stroke-width="1.3"/>
<circle cx="480.81" cy="136.94" r="2.1" fill="none" stroke="#0000ff" stroke-width="1.3"/>
<circle cx="480.89" cy="138.18" r="2.1" fill="none" stroke="#0000ff" stroke-width="1.3"/>
<circle cx="480.96" cy="139.42" r="2.1" fill="none" stroke="#0000ff" stroke-width="1.3"/>
<circle cx="481.65" cy="140.65" r="2.1" fill="none" stroke="#0000ff" stroke-width="1.3"/>
<circle cx="482.89" cy="141.89" r="2.1" fill="none" stroke="#0000ff" stroke-width="1.3"/>
<circle cx="483.14" cy="143.13" r="2.1" fill="none" stroke="#0000ff" stroke-width="1.3"/>
<circle cx="483.3" cy="144.36" r="2.1" fill="none" stroke="#0000ff" stroke-width="1.3"/>
<circle cx="483.45" cy="145.6" r="2.1" fill="none" stroke="#0000ff" stroke-width="1.3"/>
<circle cx="483.6" cy="146.84" r="2.1" fill="none" stroke="#0000ff" stroke-width="1.3"/>
<circle cx="483.76" cy="148.08" r="2.1" fill="none" stroke="#0000ff" stroke-width="1.3"/>
<circle cx="483.91" cy="149.31" r="2.1" fill="none" stroke="#0000ff" stroke-width="1.3"/>
<circle cx="484.12" cy="150.55" r="2.1" fill="none" stroke="#0000ff" stroke-width="1.3"/>
<circle cx="484.37" cy="151.79" r="2.1" fill="none" stroke="#0000ff" stroke-width="1.3"/>
<circle cx="484.63" cy="153.02" r="2.1" fill="none" stroke="#0000ff" stroke-width="1.3"/>
<circle cx="484.89" cy="154.26" r="2.1" fill="none" stroke="#0000ff" stroke-width="1.3"/>
<circle cx="485.15" cy="155.5" r="2.1" fill="none" stroke="#0000ff" stroke-width="1.3"/>
<circle cx="485.41" cy="156.73" r="2.1" fill="none" stroke="#0000ff" stroke-width="1.3"/>
<circle cx="485.67" cy="157.97" r="2.1" fill="none" stroke="#0000ff" stroke-width="1.3"/>
<circle cx="485.93" cy="159.21" r="2.1" fill="none" stroke="#0000ff" stroke-width="1.3"/>
<circle cx="486.22" cy="160.44" r="2.1" fill="none" stroke="#0000ff" stroke-width="1.3"/>
<circle cx="486.54" cy="161.68" r="2.1" fill="none" stroke="#0000ff" stroke-width="1.3"/>
<circle cx="486.86" cy="162.92" r="2.1" fill="none" stroke="#0000ff" stroke-width="1.3"/>
<circle cx="487.18" cy="164.15" r="2.1" fill="none" stroke="#0000ff" stroke-width="1.3"/>
<circle cx="487.5" cy="165.39" r="2.1" fill="none" stroke="#0000ff" stroke-width="1.3"/>
<circle cx="487.82" cy="166.63" r="2.1" fill="none" stroke="#0000ff" stroke-width="1.3"/>
<circle cx="488.14" cy="167.86" r="2.1" fill="none" stroke="#0000ff" stroke-width="1.3"/>
<circle cx="488.47" cy="169.1" r="2.1" fill="none" stroke="#0000ff" stroke-width="1.3"/>
<circle cx="488.79" cy="170.34" r="2.1" fill="none" stroke="#0000ff" stroke-width="1.3"/>
<circle cx="489.11" cy="171.57" r="2.1" fill="none" stroke="#0000ff" stroke-width="1.3"/>
<circle cx="489.43" cy="172.81" r="2.1" fill="none" stroke="#0000ff" stroke-width="1.3"/>
<circle cx="489.75" cy="174.05" r="2.1" fill="none" stroke="#0000ff" stroke-width="1.3"/>
<circle cx="490.09" cy="175.28" r="2.1" fill="none" stroke="#0000ff" stroke-width="1.3"/>
<circle cx="490.5" cy="176.52" r="2.1" fill="none" stroke="#0000ff" stroke-width="1.3"/>
<circle cx="490.91" cy="177.76" r="2.1" fill="none" stroke="#0000ff" stroke-width="1.3"/>
<circle cx="491.32" cy="179" r="2.1" fill="none" stroke="#0000ff" stroke-width="1.3"/>
<circle cx="491.73" cy="180.23" r="2.1" fill="none" stroke="#0000ff" stroke-width="1.3"/>
<circle cx="492.13" cy="181.47" r="2.1" fill="none" stroke="#0000ff" stroke-width="1.3"/>
<circle cx="492.54" cy="182.71" r="2.1" fill="none" stroke="#0000ff" stroke-width="1.3"/>
<circle cx="492.95" cy="183.94" r="2.1" fill="none" stroke="#0000ff" stroke-width="1.3"/>
<circle cx="493.47" cy="185.18" r="2.1" fill="none" stroke="#0000ff" stroke-width="1.3"/>
<circle cx="494.68" cy="186.42" r="2.1" fill="none" stroke="#0000ff" stroke-width="1.3"/>
<circle cx="495.89" cy="187.65" r="2.1" fill="none" stroke="#0000ff" stroke-width="1.3"/>
<circle cx="497.09" cy="188.89" r="2.1" fill="none" stroke="#0000ff" stroke-width="1.3"/>
<circle cx="502.08" cy="190.13" r="2.1" fill="none" stroke="#0000ff" stroke-width="1.3"/>
<circle cx="502.4" cy="191.36" r="2.1" fill="none" stroke="#0000ff" stroke-width="1.3"/>
<path d="M451.4 35.1L452.12 37.31L454.44 37.31L452.56 38.68L453.28 40.89L451.4 39.52L449.52 40.89L450.24 38.68L448.36 37.31L450.68 37.31Z" fill="none" stroke="#f01010" stroke-width="0.85"/>
<path d="M460.72 37.59L461.44 39.8L463.77 39.8L461.89 41.17L462.6 43.38L460.72 42.02L458.84 43.38L459.56 41.17L457.68 39.8L460.01 39.8Z" fill="none" stroke="#f01010" stroke-width="0.85"/>
<path d="M467.43 40.09L468.15 42.3L470.48 42.3L468.6 43.66L469.32 45.88L467.43 44.51L465.55 45.88L466.27 43.66L464.39 42.3L466.72 42.3Z" fill="none" stroke="#f01010" stroke-width="0.85"/>
<path d="M469.61 42.58L470.32 44.79L472.65 44.79L470.77 46.16L471.49 48.37L469.61 47L467.73 48.37L468.44 46.16L466.56 44.79L468.89 44.79Z" fill="none" stroke="#f01010" stroke-width="0.85"/>
<path d="M471.51 45.07L472.23 47.29L474.55 47.29L472.67 48.65L473.39 50.86L471.51 49.5L469.63 50.86L470.35 48.65L468.47 47.29L470.79 47.29Z" fill="none" stroke="#f01010" stroke-width="0.85"/>
<path d="M473.62 47.57L474.34 49.78L476.67 49.78L474.79 51.15L475.5 53.36L473.62 51.99L471.74 53.36L472.46 51.15L470.58 49.78L472.91 49.78Z" fill="none" stroke="#f01010" stroke-width="0.85"/>
<path d="M475.69 50.06L476.41 52.27L478.74 52.27L476.85 53.64L477.57 55.85L475.69 54.48L473.81 55.85L474.53 53.64L472.65 52.27L474.97 52.27Z" fill="none" stroke="#f01010" stroke-width="0.85"/>
<path d="M477.12 52.55L477.84 54.77L480.16 54.77L478.28 56.13L479 58.34L477.12 56.98L475.24 58.34L475.95 56.13L474.07 54.77L476.4 54.77Z" fill="none" stroke="#f01010" stroke-width="0.85"/>
<path d="M478.54 55.05L479.26 57.26L481.59 57.26L479.7 58.63L480.42 60.84L478.54 59.47L476.66 60.84L477.38 58.63L475.5 57.26L477.82 57.26Z" fill="none" stroke="#f01010" stroke-width="0.85"/>
<path d="M479.87 57.54L480.59 59.75L482.91 59.75L481.03 61.12L481.75 63.33L479.87 61.96L477.99 63.33L478.71 61.12L476.83 59.75L479.15 59.75Z" fill="none" stroke="#f01010" stroke-width="0.85"/>
<path d="M480.92 60.04L481.64 62.25L483.96 62.25L482.08 63.61L482.8 65.82L480.92 64.46L479.04 65.82L479.76 63.61L477.87 62.25L480.2 62.25Z" fill="none" stroke="#f01010" stroke-width="0.85"/>
<path d="M481.97 62.53L482.68 64.74L485.01 64.74L483.13 66.11L483.85 68.32L481.97 66.95L480.08 68.32L480.8 66.11L478.92 64.74L481.25 64.74Z" fill="none" stroke="#f01010" stroke-width="0.85"/>
<path d="M482.81 65.02L483.53 67.23L485.85 67.23L483.97 68.6L484.69 70.81L482.81 69.44L480.93 70.81L481.65 68.6L479.77 67.23L482.09 67.23Z" fill="none" stroke="#f01010" stroke-width="0.85"/>
<path d="M483.44 67.52L484.16 69.73L486.48 69.73L484.6 71.09L485.32 73.3L483.44 71.94L481.56 73.3L482.28 71.09L480.4 69.73L482.72 69.73Z" fill="none" stroke="#f01010" stroke-width="0.85"/>
<path d="M484.07 70.01L484.79 72.22L487.12 72.22L485.23 73.59L485.95 75.8L484.07 74.43L482.19 75.8L482.91 73.59L481.03 72.22L483.35 72.22Z" fill="none" stroke="#f01010" stroke-width="0.85"/>
<path d="M484.85 72.5L485.57 74.71L487.9 74.71L486.02 76.08L486.74 78.29L484.85 76.93L482.97 78.29L483.69 76.08L481.81 74.71L484.14 74.71Z" fill="none" stroke="#f01010" stroke-width="0.85"/>
<path d="M485.95 75L486.67 77.21L489 77.21L487.12 78.57L487.84 80.79L485.95 79.42L484.07 80.79L484.79 78.57L482.91 77.21L485.24 77.21Z" fill="none" stroke="#f01010" stroke-width="0.85"/>
<path d="M486.76 77.49L487.48 79.7L489.8 79.7L487.92 81.07L488.64 83.28L486.76 81.91L484.88 83.28L485.6 81.07L483.72 79.7L486.04 79.7Z" fill="none" stroke="#f01010" stroke-width="0.85"/>
<path d="M487.55 79.98L488.27 82.19L490.59 82.2L488.71 83.56L489.43 85.77L487.55 84.41L485.67 85.77L486.39 83.56L484.51 82.2L486.83 82.19Z" fill="none" stroke="#f01010" stroke-width="0.85"/>
<path d="M488.34 82.48L489.06 84.69L491.39 84.69L489.51 86.06L490.22 88.27L488.34 86.9L486.46 88.27L487.18 86.06L485.3 84.69L487.62 84.69Z" fill="none" stroke="#f01010" stroke-width="0.85"/>
<path d="M489.14 84.97L489.85 87.18L492.18 87.18L490.3 88.55L491.02 90.76L489.14 89.39L487.25 90.76L487.97 88.55L486.09 87.18L488.42 87.18Z" fill="none" stroke="#f01010" stroke-width="0.85"/>
<path d="M489.93 87.46L490.65 89.68L492.97 89.68L491.09 91.04L491.81 93.25L489.93 91.89L488.05 93.25L488.76 91.04L486.88 89.68L489.21 89.68Z" fill="none" stroke="#f01010" stroke-width="0.85"/>
<path d="M490.72 89.96L491.44 92.17L493.76 92.17L491.88 93.54L492.6 95.75L490.72 94.38L488.84 95.75L489.56 93.54L487.68 92.17L490 92.17Z" fill="none" stroke="#f01010" stroke-width="0.85"/>
<path d="M491.52 92.45L492.24 94.66L494.56 94.66L492.68 96.03L493.4 98.24L491.52 96.87L489.64 98.24L490.36 96.03L488.47 94.66L490.8 94.66Z" fill="none" stroke="#f01010" stroke-width="0.85"/>
<path d="M492.35 94.95L493.07 97.16L495.4 97.16L493.52 98.52L494.23 100.73L492.35 99.37L490.47 100.73L491.19 98.52L489.31 97.16L491.63 97.16Z" fill="none" stroke="#f01010" stroke-width="0.85"/>
<path d="M493.19 97.44L493.91 99.65L496.23 99.65L494.35 101.02L495.07 103.23L493.19 101.86L491.31 103.23L492.03 101.02L490.15 99.65L492.47 99.65Z" fill="none" stroke="#f01010" stroke-width="0.85"/>
<path d="M494.02 99.93L494.74 102.14L497.07 102.14L495.19 103.51L495.9 105.72L494.02 104.35L492.14 105.72L492.86 103.51L490.98 102.14L493.31 102.14Z" fill="none" stroke="#f01010" stroke-width="0.85"/>
<path d="M494.86 102.43L495.58 104.64L497.9 104.64L496.02 106L496.74 108.21L494.86 106.85L492.98 108.21L493.7 106L491.82 104.64L494.14 104.64Z" fill="none" stroke="#f01010" stroke-width="0.85"/>
<path d="M495.69 104.92L496.41 107.13L498.74 107.13L496.86 108.5L497.58 110.71L495.69 109.34L493.81 110.71L494.53 108.5L492.65 107.13L494.98 107.13Z" fill="none" stroke="#f01010" stroke-width="0.85"/>
<path d="M496.53 107.41L497.25 109.62L499.57 109.62L497.69 110.99L498.41 113.2L496.53 111.84L494.65 113.2L495.37 110.99L493.49 109.62L495.81 109.62Z" fill="none" stroke="#f01010" stroke-width="0.85"/>
<path d="M497.37 109.91L498.08 112.12L500.41 112.12L498.53 113.48L499.25 115.7L497.37 114.33L495.48 115.7L496.2 113.48L494.32 112.12L496.65 112.12Z" fill="none" stroke="#f01010" stroke-width="0.85"/>
<path d="M498.21 112.4L498.93 114.61L501.26 114.61L499.38 115.98L500.09 118.19L498.21 116.82L496.33 118.19L497.05 115.98L495.17 114.61L497.49 114.61Z" fill="none" stroke="#f01010" stroke-width="0.85"/>
<path d="M499.15 114.89L499.87 117.1L502.19 117.1L500.31 118.47L501.03 120.68L499.15 119.32L497.27 120.68L497.99 118.47L496.1 117.1L498.43 117.1Z" fill="none" stroke="#f01010" stroke-width="0.85"/>
<path d="M500.08 117.39L500.8 119.6L503.13 119.6L501.25 120.96L501.96 123.18L500.08 121.81L498.2 123.18L498.92 120.96L497.04 119.6L499.36 119.6Z" fill="none" stroke="#f01010" stroke-width="0.85"/>
<path d="M501.02 119.88L501.74 122.09L504.06 122.09L502.18 123.46L502.9 125.67L501.02 124.3L499.14 125.67L499.86 123.46L497.97 122.09L500.3 122.09Z" fill="none" stroke="#f01010" stroke-width="0.85"/>
<path d="M501.95 122.37L502.67 124.59L505 124.59L503.12 125.95L503.83 128.16L501.95 126.8L500.07 128.16L500.79 125.95L498.91 124.59L501.23 124.59Z" fill="none" stroke="#f01010" stroke-width="0.85"/>
<path d="M502.89 124.87L503.61 127.08L505.93 127.08L504.05 128.45L504.77 130.66L502.89 129.29L501.01 130.66L501.73 128.45L499.84 127.08L502.17 127.08Z" fill="none" stroke="#f01010" stroke-width="0.85"/>
<path d="M503.82 127.36L504.54 129.57L506.87 129.57L504.99 130.94L505.7 133.15L503.82 131.78L501.94 133.15L502.66 130.94L500.78 129.57L503.1 129.57Z" fill="none" stroke="#f01010" stroke-width="0.85"/>
<path d="M504.76 129.85L505.48 132.07L507.8 132.07L505.92 133.43L506.64 135.64L504.76 134.28L502.88 135.64L503.6 133.43L501.71 132.07L504.04 132.07Z" fill="none" stroke="#f01010" stroke-width="0.85"/>
<path d="M505.67 132.35L506.39 134.56L508.72 134.56L506.84 135.93L507.56 138.14L505.67 136.77L503.79 138.14L504.51 135.93L502.63 134.56L504.96 134.56Z" fill="none" stroke="#f01010" stroke-width="0.85"/>
<path d="M506.42 134.84L507.14 137.05L509.47 137.05L507.59 138.42L508.3 140.63L506.42 139.26L504.54 140.63L505.26 138.42L503.38 137.05L505.7 137.05Z" fill="none" stroke="#f01010" stroke-width="0.85"/>
<path d="M507.17 137.34L507.89 139.55L510.21 139.55L508.33 140.91L509.05 143.12L507.17 141.76L505.29 143.12L506.01 140.91L504.13 139.55L506.45 139.55Z" fill="none" stroke="#f01010" stroke-width="0.85"/>
<path d="M507.92 139.83L508.64 142.04L510.96 142.04L509.08 143.41L509.8 145.62L507.92 144.25L506.04 145.62L506.76 143.41L504.88 142.04L507.2 142.04Z" fill="none" stroke="#f01010" stroke-width="0.85"/>
<path d="M508.67 142.32L509.39 144.53L511.71 144.53L509.83 145.9L510.55 148.11L508.67 146.74L506.79 148.11L507.5 145.9L505.62 144.53L507.95 144.53Z" fill="none" stroke="#f01010" stroke-width="0.85"/>
<path d="M509.41 144.82L510.13 147.03L512.46 147.03L510.58 148.39L511.3 150.6L509.41 149.24L507.53 150.6L508.25 148.39L506.37 147.03L508.7 147.03Z" fill="none" stroke="#f01010" stroke-width="0.85"/>
<path d="M510.16 147.31L510.88 149.52L513.21 149.52L511.33 150.89L512.04 153.1L510.16 151.73L508.28 153.1L509 150.89L507.12 149.52L509.44 149.52Z" fill="none" stroke="#f01010" stroke-width="0.85"/>
<path d="M510.91 149.8L511.63 152.01L513.95 152.01L512.07 153.38L512.79 155.59L510.91 154.23L509.03 155.59L509.75 153.38L507.87 152.01L510.19 152.01Z" fill="none" stroke="#f01010" stroke-width="0.85"/>
<path d="M512.07 152.3L512.79 154.51L515.11 154.51L513.23 155.87L513.95 158.09L512.07 156.72L510.19 158.09L510.9 155.87L509.02 154.51L511.35 154.51Z" fill="none" stroke="#f01010" stroke-width="0.85"/>
<path d="M513.28 154.79L514 157L516.32 157L514.44 158.37L515.16 160.58L513.28 159.21L511.4 160.58L512.12 158.37L510.23 157L512.56 157Z" fill="none" stroke="#f01010" stroke-width="0.85"/>
<path d="M514.49 157.28L515.21 159.49L517.54 159.5L515.66 160.86L516.37 163.07L514.49 161.71L512.61 163.07L513.33 160.86L511.45 159.5L513.77 159.49Z" fill="none" stroke="#f01010" stroke-width="0.85"/>
<path d="M515.75 159.78L516.47 161.99L518.79 161.99L516.91 163.36L517.63 165.57L515.75 164.2L513.87 165.57L514.58 163.36L512.7 161.99L515.03 161.99Z" fill="none" stroke="#f01010" stroke-width="0.85"/>
<path d="M517 162.27L517.72 164.48L520.04 164.48L518.16 165.85L518.88 168.06L517 166.69L515.12 168.06L515.84 165.85L513.96 164.48L516.28 164.48Z" fill="none" stroke="#f01010" stroke-width="0.85"/>
<path d="M518.26 164.76L518.97 166.98L521.3 166.98L519.42 168.34L520.14 170.55L518.26 169.19L516.37 170.55L517.09 168.34L515.21 166.98L517.54 166.98Z" fill="none" stroke="#f01010" stroke-width="0.85"/>
<path d="M519.51 167.26L520.23 169.47L522.55 169.47L520.67 170.84L521.39 173.05L519.51 171.68L517.63 173.05L518.35 170.84L516.47 169.47L518.79 169.47Z" fill="none" stroke="#f01010" stroke-width="0.85"/>
<path d="M520.76 169.75L521.48 171.96L523.81 171.96L521.93 173.33L522.64 175.54L520.76 174.17L518.88 175.54L519.6 173.33L517.72 171.96L520.05 171.96Z" fill="none" stroke="#f01010" stroke-width="0.85"/>
<path d="M522.02 172.25L522.74 174.46L525.06 174.46L523.18 175.82L523.9 178.03L522.02 176.67L520.14 178.03L520.86 175.82L518.97 174.46L521.3 174.46Z" fill="none" stroke="#f01010" stroke-width="0.85"/>
<path d="M523.12 174.74L523.84 176.95L526.16 176.95L524.28 178.32L525 180.53L523.12 179.16L521.24 180.53L521.96 178.32L520.07 176.95L522.4 176.95Z" fill="none" stroke="#f01010" stroke-width="0.85"/>
<path d="M523.96 177.23L524.68 179.44L527.01 179.44L525.13 180.81L525.84 183.02L523.96 181.65L522.08 183.02L522.8 180.81L520.92 179.44L523.24 179.44Z" fill="none" stroke="#f01010" stroke-width="0.85"/>
<path d="M524.81 179.73L525.53 181.94L527.85 181.94L525.97 183.3L526.69 185.51L524.81 184.15L522.93 185.51L523.64 183.3L521.76 181.94L524.09 181.94Z" fill="none" stroke="#f01010" stroke-width="0.85"/>
<path d="M530.58 182.22L531.3 184.43L533.62 184.43L531.74 185.8L532.46 188.01L530.58 186.64L528.7 188.01L529.42 185.8L527.54 184.43L529.86 184.43Z" fill="none" stroke="#f01010" stroke-width="0.85"/>
<path d="M534.32 184.71L535.04 186.92L537.36 186.92L535.48 188.29L536.2 190.5L534.32 189.14L532.44 190.5L533.16 188.29L531.28 186.92L533.6 186.92Z" fill="none" stroke="#f01010" stroke-width="0.85"/>
<path d="M539.4 187.21L540.12 189.42L542.44 189.42L540.56 190.78L541.28 193L539.4 191.63L537.52 193L538.24 190.78L536.36 189.42L538.68 189.42Z" fill="none" stroke="#f01010" stroke-width="0.85"/></g>
<rect x="334.5" y="7" width="259.20000000000005" height="201" fill="none" stroke="#666" stroke-width="1"/>
<path d="M363.3 208V205M363.3 7V10" stroke="#666" stroke-width="1"/>
<path d="M420.9 208V205M420.9 7V10" stroke="#666" stroke-width="1"/>
<path d="M478.5 208V205M478.5 7V10" stroke="#666" stroke-width="1"/>
<path d="M536.1 208V205M536.1 7V10" stroke="#666" stroke-width="1"/>
<path d="M593.7 208V205M593.7 7V10" stroke="#666" stroke-width="1"/>
<path d="M334.5 192.6H337.5M593.7 192.6H590.7" stroke="#666" stroke-width="1"/>
<path d="M334.5 161.68H337.5M593.7 161.68H590.7" stroke="#666" stroke-width="1"/>
<path d="M334.5 130.76H337.5M593.7 130.76H590.7" stroke="#666" stroke-width="1"/>
<path d="M334.5 99.84H337.5M593.7 99.84H590.7" stroke="#666" stroke-width="1"/>
<path d="M334.5 68.92H337.5M593.7 68.92H590.7" stroke="#666" stroke-width="1"/>
<path d="M334.5 38H337.5M593.7 38H590.7" stroke="#666" stroke-width="1"/>
<path d="M334.5 7.08H337.5M593.7 7.08H590.7" stroke="#666" stroke-width="1"/>
<text x="363.3" y="218.9" text-anchor="middle">20</text>
<text x="420.9" y="218.9" text-anchor="middle">21</text>
<text x="478.5" y="218.9" text-anchor="middle">22</text>
<text x="536.1" y="218.9" text-anchor="middle">23</text>
<text x="593.7" y="218.9" text-anchor="middle">24</text>
<text x="332.3" y="196.2" text-anchor="end">0</text>
<text x="332.3" y="165.28" text-anchor="end">0.2</text>
<text x="332.3" y="134.36" text-anchor="end">0.4</text>
<text x="332.3" y="103.44" text-anchor="end">0.6</text>
<text x="332.3" y="72.52" text-anchor="end">0.8</text>
<text x="332.3" y="41.6" text-anchor="end">1</text>
<text x="332.3" y="10.68" text-anchor="end">1.2</text>
<rect x="507" y="11" width="83" height="60" fill="#fff" stroke="#666" stroke-width="1"/>
<rect x="519.4" y="15.8" width="3.4" height="3.4" fill="none" stroke="#ff00ff" stroke-width="0.6"/>
<text x="533.6" y="21" font-size="10.1">Cold cores</text>
<path d="M521.1 27L523.5 31.32L518.7 31.32Z" fill="none" stroke="#1e801e" stroke-width="0.6"/>
<text x="533.6" y="32.9" font-size="10.1">IRAS&#8211;Wang</text>
<path d="M519 41.3H523.2M521.1 39.2V43.4" stroke="#40baba" stroke-width="0.6"/>
<text x="533.6" y="44.8" font-size="10.1">Methanol</text>
<circle cx="521.1" cy="53.2" r="2.0" fill="none" stroke="#0000ff" stroke-width="0.7"/>
<text x="533.6" y="56.7" font-size="10.1">IRDCs</text>
<path d="M521.1 62.1L521.84 64.38L524.24 64.38L522.3 65.79L523.04 68.07L521.1 66.66L519.16 68.07L519.9 65.79L517.96 64.38L520.36 64.38Z" fill="none" stroke="#f01010" stroke-width="0.6"/>
<text x="533.6" y="68.6" font-size="10.1">EGOs</text>
<text x="348.4" y="24.3" font-size="11.3">(b)</text>
<text transform="translate(312.2,164.5) rotate(-90)" font-size="13.2">Cumulative fraction</text>
<text font-size="13.3"><tspan x="405.5" y="236.5">log(N</tspan><tspan x="436.5" y="243.5" font-size="10.5">H</tspan><tspan x="444.2" y="250.3" font-size="8">2</tspan><tspan x="448.8" y="236.5">)</tspan><tspan x="457" y="236.5">(log(cm</tspan><tspan x="501.4" y="231.6" font-size="10">&#8722;</tspan><tspan x="507" y="231.6" font-size="10">2</tspan><tspan x="513.8" y="236.5">))</tspan></text>
</g>
</svg>
</body></html>
